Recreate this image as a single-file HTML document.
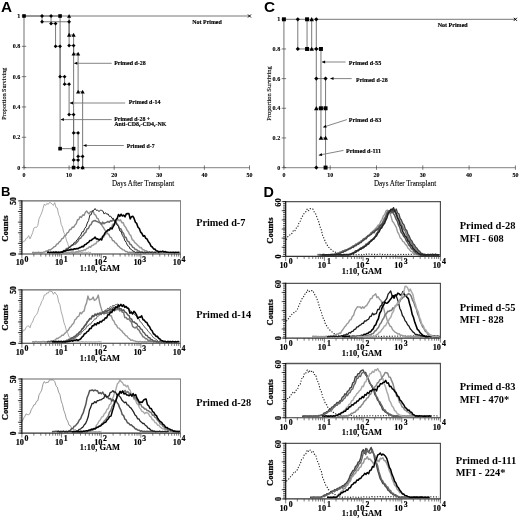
<!DOCTYPE html>
<html><head><meta charset="utf-8"><style>
html,body{margin:0;padding:0;background:#fff;}
svg{display:block;filter:grayscale(1);}
</style></head><body>
<svg width="520" height="520" viewBox="0 0 520 520">
<rect x="0" y="0" width="520" height="520" fill="#fff"/>
<line x1="24" y1="16" x2="24" y2="167.6" stroke="#9a9a9a" stroke-width="1.4" />
<line x1="24" y1="167.6" x2="249.5" y2="167.6" stroke="#9a9a9a" stroke-width="1.4" />
<line x1="21.8" y1="167.6" x2="26.2" y2="167.6" stroke="#444" stroke-width="0.7" />
<text x="20.3" y="169.6" font-size="6.1" font-weight="bold" fill="#000" text-anchor="end" style="font-family:'Liberation Serif',serif" stroke="#000" stroke-width="0.12">0</text>
<line x1="21.8" y1="137.28" x2="26.2" y2="137.28" stroke="#444" stroke-width="0.7" />
<text x="20.3" y="139.28" font-size="6.1" font-weight="bold" fill="#000" text-anchor="end" style="font-family:'Liberation Serif',serif" stroke="#000" stroke-width="0.12">0.2</text>
<line x1="21.8" y1="106.96" x2="26.2" y2="106.96" stroke="#444" stroke-width="0.7" />
<text x="20.3" y="108.96" font-size="6.1" font-weight="bold" fill="#000" text-anchor="end" style="font-family:'Liberation Serif',serif" stroke="#000" stroke-width="0.12">0.4</text>
<line x1="21.8" y1="76.64" x2="26.2" y2="76.64" stroke="#444" stroke-width="0.7" />
<text x="20.3" y="78.64" font-size="6.1" font-weight="bold" fill="#000" text-anchor="end" style="font-family:'Liberation Serif',serif" stroke="#000" stroke-width="0.12">0.6</text>
<line x1="21.8" y1="46.32" x2="26.2" y2="46.32" stroke="#444" stroke-width="0.7" />
<text x="20.3" y="48.32" font-size="6.1" font-weight="bold" fill="#000" text-anchor="end" style="font-family:'Liberation Serif',serif" stroke="#000" stroke-width="0.12">0.8</text>
<line x1="21.8" y1="16" x2="26.2" y2="16" stroke="#444" stroke-width="0.7" />
<text x="20.3" y="18" font-size="6.1" font-weight="bold" fill="#000" text-anchor="end" style="font-family:'Liberation Serif',serif" stroke="#000" stroke-width="0.12">1</text>
<line x1="24" y1="165.4" x2="24" y2="169.8" stroke="#444" stroke-width="0.7" />
<text x="24" y="176.6" font-size="6" font-weight="bold" fill="#000" text-anchor="middle" style="font-family:'Liberation Serif',serif" stroke="#000" stroke-width="0.12">0</text>
<line x1="69.1" y1="165.4" x2="69.1" y2="169.8" stroke="#444" stroke-width="0.7" />
<text x="69.1" y="176.6" font-size="6" font-weight="bold" fill="#000" text-anchor="middle" style="font-family:'Liberation Serif',serif" stroke="#000" stroke-width="0.12">10</text>
<line x1="114.2" y1="165.4" x2="114.2" y2="169.8" stroke="#444" stroke-width="0.7" />
<text x="114.2" y="176.6" font-size="6" font-weight="bold" fill="#000" text-anchor="middle" style="font-family:'Liberation Serif',serif" stroke="#000" stroke-width="0.12">20</text>
<line x1="159.3" y1="165.4" x2="159.3" y2="169.8" stroke="#444" stroke-width="0.7" />
<text x="159.3" y="176.6" font-size="6" font-weight="bold" fill="#000" text-anchor="middle" style="font-family:'Liberation Serif',serif" stroke="#000" stroke-width="0.12">30</text>
<line x1="204.4" y1="165.4" x2="204.4" y2="169.8" stroke="#444" stroke-width="0.7" />
<text x="204.4" y="176.6" font-size="6" font-weight="bold" fill="#000" text-anchor="middle" style="font-family:'Liberation Serif',serif" stroke="#000" stroke-width="0.12">40</text>
<line x1="249.5" y1="165.4" x2="249.5" y2="169.8" stroke="#444" stroke-width="0.7" />
<text x="249.5" y="176.6" font-size="6" font-weight="bold" fill="#000" text-anchor="middle" style="font-family:'Liberation Serif',serif" stroke="#000" stroke-width="0.12">50</text>
<line x1="24" y1="16" x2="249.5" y2="16" stroke="#777" stroke-width="1" />
<polyline points="24,16 60.08,16 60.08,148.65 73.61,148.65 73.61,167.6" fill="none" stroke="#6a6a6a" stroke-width="0.9" stroke-linejoin="round" />
<polyline points="42.04,16 42.04,21.76 69.1,21.76 69.1,45.56 73.61,45.56 73.61,132.88 78.12,132.88 78.12,156.38 82.63,156.38 82.63,167.6" fill="none" stroke="#6a6a6a" stroke-width="0.9" stroke-linejoin="round" />
<polyline points="51.06,16 51.06,23.58 55.57,23.58 55.57,46.32 60.08,46.32 60.08,76.64 64.59,76.64 64.59,84.22 69.1,84.22 69.1,114.54 73.61,114.54 73.61,160.02 78.12,160.02 78.12,167.6" fill="none" stroke="#6a6a6a" stroke-width="0.9" stroke-linejoin="round" />
<polyline points="69.1,16 69.1,34.95 73.61,34.95 73.61,53.9 78.12,53.9 78.12,91.8 82.63,91.8 82.63,167.6" fill="none" stroke="#6a6a6a" stroke-width="0.9" stroke-linejoin="round" />
<rect x="22.2" y="14.2" width="3.6" height="3.6" fill="#000"/>
<rect x="58.28" y="14.2" width="3.6" height="3.6" fill="#000"/>
<rect x="58.28" y="146.85" width="3.6" height="3.6" fill="#000"/>
<rect x="71.81" y="146.85" width="3.6" height="3.6" fill="#000"/>
<rect x="71.81" y="165.8" width="3.6" height="3.6" fill="#000"/>
<path d="M42.04 14.1L43.94 16L42.04 17.9L40.14 16Z" fill="#000"/>
<path d="M42.04 19.86L43.94 21.76L42.04 23.66L40.14 21.76Z" fill="#000"/>
<path d="M69.1 19.86L71 21.76L69.1 23.66L67.2 21.76Z" fill="#000"/>
<path d="M69.1 43.66L71 45.56L69.1 47.46L67.2 45.56Z" fill="#000"/>
<path d="M73.61 43.66L75.51 45.56L73.61 47.46L71.71 45.56Z" fill="#000"/>
<path d="M73.61 130.98L75.51 132.88L73.61 134.78L71.71 132.88Z" fill="#000"/>
<path d="M78.12 130.98L80.02 132.88L78.12 134.78L76.22 132.88Z" fill="#000"/>
<path d="M78.12 154.48L80.02 156.38L78.12 158.28L76.22 156.38Z" fill="#000"/>
<path d="M82.63 154.48L84.53 156.38L82.63 158.28L80.73 156.38Z" fill="#000"/>
<path d="M82.63 165.7L84.53 167.6L82.63 169.5L80.73 167.6Z" fill="#000"/>
<path d="M51.06 14.1L52.96 16L51.06 17.9L49.16 16Z" fill="#000"/>
<path d="M51.06 21.68L52.96 23.58L51.06 25.48L49.16 23.58Z" fill="#000"/>
<path d="M55.57 21.68L57.47 23.58L55.57 25.48L53.67 23.58Z" fill="#000"/>
<path d="M55.57 44.42L57.47 46.32L55.57 48.22L53.67 46.32Z" fill="#000"/>
<path d="M60.08 44.42L61.98 46.32L60.08 48.22L58.18 46.32Z" fill="#000"/>
<path d="M60.08 74.74L61.98 76.64L60.08 78.54L58.18 76.64Z" fill="#000"/>
<path d="M64.59 74.74L66.49 76.64L64.59 78.54L62.69 76.64Z" fill="#000"/>
<path d="M64.59 82.32L66.49 84.22L64.59 86.12L62.69 84.22Z" fill="#000"/>
<path d="M69.1 82.32L71 84.22L69.1 86.12L67.2 84.22Z" fill="#000"/>
<path d="M69.1 112.64L71 114.54L69.1 116.44L67.2 114.54Z" fill="#000"/>
<path d="M73.61 112.64L75.51 114.54L73.61 116.44L71.71 114.54Z" fill="#000"/>
<path d="M73.61 158.12L75.51 160.02L73.61 161.92L71.71 160.02Z" fill="#000"/>
<path d="M78.12 158.12L80.02 160.02L78.12 161.92L76.22 160.02Z" fill="#000"/>
<path d="M78.12 165.7L80.02 167.6L78.12 169.5L76.22 167.6Z" fill="#000"/>
<path d="M69.1 13.9L71.2 17.68L67 17.68Z" fill="#000"/>
<path d="M69.1 32.85L71.2 36.63L67 36.63Z" fill="#000"/>
<path d="M73.61 32.85L75.71 36.63L71.51 36.63Z" fill="#000"/>
<path d="M73.61 51.8L75.71 55.58L71.51 55.58Z" fill="#000"/>
<path d="M78.12 51.8L80.22 55.58L76.02 55.58Z" fill="#000"/>
<path d="M78.12 89.7L80.22 93.48L76.02 93.48Z" fill="#000"/>
<path d="M82.63 89.7L84.73 93.48L80.53 93.48Z" fill="#000"/>
<path d="M82.63 165.5L84.73 169.28L80.53 169.28Z" fill="#000"/>
<line x1="248" y1="14.5" x2="251" y2="17.5" stroke="#000" stroke-width="1" />
<line x1="248" y1="17.5" x2="251" y2="14.5" stroke="#000" stroke-width="1" />
<line x1="74.1" y1="63.3" x2="111.7" y2="63.3" stroke="#777" stroke-width="0.9" />
<path d="M74.1 63.3L77.3 64.8L77.3 61.8Z" fill="#000"/>
<line x1="69.8" y1="103" x2="125.2" y2="103" stroke="#777" stroke-width="0.9" />
<path d="M69.8 103L73 104.5L73 101.5Z" fill="#000"/>
<line x1="60.7" y1="119.6" x2="111.7" y2="119.6" stroke="#777" stroke-width="0.9" />
<path d="M60.7 119.6L63.9 121.1L63.9 118.1Z" fill="#000"/>
<line x1="83.3" y1="145.5" x2="123.8" y2="145.5" stroke="#777" stroke-width="0.9" />
<path d="M83.3 145.5L86.5 147L86.5 144Z" fill="#000"/>
<text x="114.2" y="64.6" font-size="6.1" font-weight="bold" fill="#000" text-anchor="start" style="font-family:'Liberation Serif',serif" textLength="31.6" lengthAdjust="spacingAndGlyphs" stroke="#000" stroke-width="0.15">Primed d-28</text>
<text x="128.7" y="103.6" font-size="6.1" font-weight="bold" fill="#000" text-anchor="start" style="font-family:'Liberation Serif',serif" textLength="31.7" lengthAdjust="spacingAndGlyphs" stroke="#000" stroke-width="0.15">Primed d-14</text>
<text x="114.2" y="120.9" font-size="6.1" font-weight="bold" fill="#000" text-anchor="start" style="font-family:'Liberation Serif',serif" textLength="36" lengthAdjust="spacingAndGlyphs" stroke="#000" stroke-width="0.15">Primed d-28 +</text>
<text x="114.2" y="126.3" font-size="6.1" font-weight="bold" fill="#000" text-anchor="start" style="font-family:'Liberation Serif',serif" textLength="52.3" lengthAdjust="spacingAndGlyphs" stroke="#000" stroke-width="0.15">Anti-CD8,-CD4,-NK</text>
<text x="126.7" y="147.5" font-size="6.1" font-weight="bold" fill="#000" text-anchor="start" style="font-family:'Liberation Serif',serif" textLength="27.9" lengthAdjust="spacingAndGlyphs" stroke="#000" stroke-width="0.15">Primed d-7</text>
<text x="192.3" y="23.9" font-size="6.1" font-weight="bold" fill="#000" text-anchor="start" style="font-family:'Liberation Serif',serif" textLength="29.5" lengthAdjust="spacingAndGlyphs" stroke="#000" stroke-width="0.15">Not Primed</text>
<text x="6.2" y="93.7" font-size="6.7" font-weight="normal" fill="#000" text-anchor="middle" style="font-family:'Liberation Serif',serif" textLength="52" lengthAdjust="spacingAndGlyphs" transform="rotate(-90 6.2 93.7)" stroke="#000" stroke-width="0.15">Proportion Surviving</text>
<text x="112" y="185.5" font-size="7.2" font-weight="normal" fill="#000" text-anchor="start" style="font-family:'Liberation Serif',serif" textLength="62.2" lengthAdjust="spacingAndGlyphs" stroke="#000" stroke-width="0.1">Days After Transplant</text>
<line x1="283.9" y1="19.3" x2="283.9" y2="167.6" stroke="#9a9a9a" stroke-width="1.4" />
<line x1="283.9" y1="167.6" x2="515.4" y2="167.6" stroke="#9a9a9a" stroke-width="1.4" />
<line x1="281.7" y1="167.6" x2="286.1" y2="167.6" stroke="#444" stroke-width="0.7" />
<text x="280.2" y="169.6" font-size="6.1" font-weight="bold" fill="#000" text-anchor="end" style="font-family:'Liberation Serif',serif" stroke="#000" stroke-width="0.12">0</text>
<line x1="281.7" y1="137.94" x2="286.1" y2="137.94" stroke="#444" stroke-width="0.7" />
<text x="280.2" y="139.94" font-size="6.1" font-weight="bold" fill="#000" text-anchor="end" style="font-family:'Liberation Serif',serif" stroke="#000" stroke-width="0.12">0.2</text>
<line x1="281.7" y1="108.28" x2="286.1" y2="108.28" stroke="#444" stroke-width="0.7" />
<text x="280.2" y="110.28" font-size="6.1" font-weight="bold" fill="#000" text-anchor="end" style="font-family:'Liberation Serif',serif" stroke="#000" stroke-width="0.12">0.4</text>
<line x1="281.7" y1="78.62" x2="286.1" y2="78.62" stroke="#444" stroke-width="0.7" />
<text x="280.2" y="80.62" font-size="6.1" font-weight="bold" fill="#000" text-anchor="end" style="font-family:'Liberation Serif',serif" stroke="#000" stroke-width="0.12">0.6</text>
<line x1="281.7" y1="48.96" x2="286.1" y2="48.96" stroke="#444" stroke-width="0.7" />
<text x="280.2" y="50.96" font-size="6.1" font-weight="bold" fill="#000" text-anchor="end" style="font-family:'Liberation Serif',serif" stroke="#000" stroke-width="0.12">0.8</text>
<line x1="281.7" y1="19.3" x2="286.1" y2="19.3" stroke="#444" stroke-width="0.7" />
<text x="280.2" y="21.3" font-size="6.1" font-weight="bold" fill="#000" text-anchor="end" style="font-family:'Liberation Serif',serif" stroke="#000" stroke-width="0.12">1</text>
<line x1="283.9" y1="165.4" x2="283.9" y2="169.8" stroke="#444" stroke-width="0.7" />
<text x="283.9" y="176.6" font-size="6" font-weight="bold" fill="#000" text-anchor="middle" style="font-family:'Liberation Serif',serif" stroke="#000" stroke-width="0.12">0</text>
<line x1="330.2" y1="165.4" x2="330.2" y2="169.8" stroke="#444" stroke-width="0.7" />
<text x="330.2" y="176.6" font-size="6" font-weight="bold" fill="#000" text-anchor="middle" style="font-family:'Liberation Serif',serif" stroke="#000" stroke-width="0.12">10</text>
<line x1="376.5" y1="165.4" x2="376.5" y2="169.8" stroke="#444" stroke-width="0.7" />
<text x="376.5" y="176.6" font-size="6" font-weight="bold" fill="#000" text-anchor="middle" style="font-family:'Liberation Serif',serif" stroke="#000" stroke-width="0.12">20</text>
<line x1="422.8" y1="165.4" x2="422.8" y2="169.8" stroke="#444" stroke-width="0.7" />
<text x="422.8" y="176.6" font-size="6" font-weight="bold" fill="#000" text-anchor="middle" style="font-family:'Liberation Serif',serif" stroke="#000" stroke-width="0.12">30</text>
<line x1="469.1" y1="165.4" x2="469.1" y2="169.8" stroke="#444" stroke-width="0.7" />
<text x="469.1" y="176.6" font-size="6" font-weight="bold" fill="#000" text-anchor="middle" style="font-family:'Liberation Serif',serif" stroke="#000" stroke-width="0.12">40</text>
<line x1="515.4" y1="165.4" x2="515.4" y2="169.8" stroke="#444" stroke-width="0.7" />
<text x="515.4" y="176.6" font-size="6" font-weight="bold" fill="#000" text-anchor="middle" style="font-family:'Liberation Serif',serif" stroke="#000" stroke-width="0.12">50</text>
<line x1="283.9" y1="19.3" x2="515.4" y2="19.3" stroke="#777" stroke-width="1" />
<polyline points="297.79,19.3 297.79,48.96 320.94,48.96" fill="none" stroke="#6a6a6a" stroke-width="0.9" stroke-linejoin="round" />
<polyline points="307.05,19.3 307.05,48.96" fill="none" stroke="#6a6a6a" stroke-width="0.9" stroke-linejoin="round" />
<polyline points="311.68,19.3 311.68,48.96" fill="none" stroke="#6a6a6a" stroke-width="0.9" stroke-linejoin="round" />
<polyline points="316.31,19.3 316.31,167.6" fill="none" stroke="#6a6a6a" stroke-width="0.9" stroke-linejoin="round" />
<polyline points="320.94,48.96 320.94,137.94 325.57,137.94" fill="none" stroke="#6a6a6a" stroke-width="0.9" stroke-linejoin="round" />
<polyline points="316.31,78.62 325.57,78.62 325.57,167.6" fill="none" stroke="#6a6a6a" stroke-width="0.9" stroke-linejoin="round" />
<polyline points="316.31,108.28 325.57,108.28" fill="none" stroke="#6a6a6a" stroke-width="0.9" stroke-linejoin="round" />
<rect x="281.92" y="17.32" width="3.96" height="3.96" fill="#000"/>
<path d="M297.79 17.21L299.88 19.3L297.79 21.39L295.7 19.3Z" fill="#000"/>
<rect x="305.07" y="17.32" width="3.96" height="3.96" fill="#000"/>
<path d="M311.68 16.99L313.99 21.15L309.37 21.15Z" fill="#000"/>
<path d="M316.31 17.21L318.4 19.3L316.31 21.39L314.22 19.3Z" fill="#000"/>
<path d="M297.79 46.87L299.88 48.96L297.79 51.05L295.7 48.96Z" fill="#000"/>
<rect x="305.07" y="46.98" width="3.96" height="3.96" fill="#000"/>
<path d="M311.68 46.65L313.99 50.81L309.37 50.81Z" fill="#000"/>
<path d="M316.31 46.87L318.4 48.96L316.31 51.05L314.22 48.96Z" fill="#000"/>
<rect x="318.96" y="46.98" width="3.96" height="3.96" fill="#000"/>
<path d="M316.31 76.53L318.4 78.62L316.31 80.71L314.22 78.62Z" fill="#000"/>
<path d="M325.57 76.53L327.66 78.62L325.57 80.71L323.48 78.62Z" fill="#000"/>
<path d="M316.31 105.97L318.62 110.13L314 110.13Z" fill="#000"/>
<rect x="318.96" y="106.3" width="3.96" height="3.96" fill="#000"/>
<rect x="323.59" y="106.3" width="3.96" height="3.96" fill="#000"/>
<path d="M320.94 135.63L323.25 139.79L318.63 139.79Z" fill="#000"/>
<path d="M325.57 135.63L327.88 139.79L323.26 139.79Z" fill="#000"/>
<path d="M316.31 165.51L318.4 167.6L316.31 169.69L314.22 167.6Z" fill="#000"/>
<rect x="323.59" y="165.62" width="3.96" height="3.96" fill="#000"/>
<line x1="513.9" y1="17.8" x2="516.9" y2="20.8" stroke="#000" stroke-width="1" />
<line x1="513.9" y1="20.8" x2="516.9" y2="17.8" stroke="#000" stroke-width="1" />
<line x1="321.9" y1="62" x2="345.6" y2="62" stroke="#777" stroke-width="0.9" />
<path d="M321.9 62L325.1 63.5L325.1 60.5Z" fill="#000"/>
<line x1="330.3" y1="78.6" x2="351.7" y2="78.6" stroke="#777" stroke-width="0.9" />
<path d="M330.3 78.6L333.5 80.1L333.5 77.1Z" fill="#000"/>
<line x1="323.1" y1="127.2" x2="346.9" y2="119.6" stroke="#777" stroke-width="0.9" />
<path d="M323.1 127.2L326.6 127.66L325.69 124.8Z" fill="#000"/>
<line x1="318.8" y1="155.2" x2="343.5" y2="150.4" stroke="#777" stroke-width="0.9" />
<path d="M318.8 155.2L322.23 156.06L321.66 153.12Z" fill="#000"/>
<text x="348.8" y="65" font-size="6.1" font-weight="bold" fill="#000" text-anchor="start" style="font-family:'Liberation Serif',serif" textLength="32.4" lengthAdjust="spacingAndGlyphs" stroke="#000" stroke-width="0.15">Primed d-55</text>
<text x="356" y="81.9" font-size="6.1" font-weight="bold" fill="#000" text-anchor="start" style="font-family:'Liberation Serif',serif" textLength="31.7" lengthAdjust="spacingAndGlyphs" stroke="#000" stroke-width="0.15">Primed d-28</text>
<text x="348.8" y="122.1" font-size="6.1" font-weight="bold" fill="#000" text-anchor="start" style="font-family:'Liberation Serif',serif" textLength="32.4" lengthAdjust="spacingAndGlyphs" stroke="#000" stroke-width="0.15">Primed d-83</text>
<text x="346" y="153.1" font-size="6.1" font-weight="bold" fill="#000" text-anchor="start" style="font-family:'Liberation Serif',serif" textLength="35.2" lengthAdjust="spacingAndGlyphs" stroke="#000" stroke-width="0.15">Primed d-111</text>
<text x="437.7" y="27" font-size="6.1" font-weight="bold" fill="#000" text-anchor="start" style="font-family:'Liberation Serif',serif" textLength="30" lengthAdjust="spacingAndGlyphs" stroke="#000" stroke-width="0.15">Not Primed</text>
<text x="270.9" y="93.5" font-size="6.7" font-weight="normal" fill="#000" text-anchor="middle" style="font-family:'Liberation Serif',serif" textLength="54.6" lengthAdjust="spacingAndGlyphs" transform="rotate(-90 270.9 93.5)" stroke="#000" stroke-width="0.15">Proportion Surviving</text>
<text x="373.9" y="186" font-size="7.2" font-weight="normal" fill="#000" text-anchor="start" style="font-family:'Liberation Serif',serif" textLength="62.3" lengthAdjust="spacingAndGlyphs" stroke="#000" stroke-width="0.1">Days After Transplant</text>
<text x="0.9" y="12.2" font-size="15.3" font-weight="bold" fill="#000" text-anchor="start" style="font-family:'Liberation Sans',sans-serif" >A</text>
<text x="264" y="12.3" font-size="15.3" font-weight="bold" fill="#000" text-anchor="start" style="font-family:'Liberation Sans',sans-serif" >C</text>
<text x="0.9" y="196.3" font-size="13" font-weight="bold" fill="#000" text-anchor="start" style="font-family:'Liberation Sans',sans-serif" >B</text>
<text x="263.6" y="196.5" font-size="14" font-weight="bold" fill="#000" text-anchor="start" style="font-family:'Liberation Sans',sans-serif" textLength="10.4" lengthAdjust="spacingAndGlyphs" >D</text>
<polyline points="22.2,243.16 23.5,241.25 24.8,241.18 26.1,238.34 27.4,238.03 28.7,235.56 30,238.92 31.3,236.01 32.6,232.81 33.9,228.01 35.2,227.26 36.5,227.45 37.8,225.43 39.1,218.58 40.4,215.89 41.7,212.87 43,208.61 44.3,203.98 45.6,205.44 46.9,203.38 48.2,204.49 49.5,202.43 50.8,202.9 52.1,204.07 53.4,205.34 54.7,202.56 56,207.52 57.3,208.01 58.6,214.61 59.9,217.21 61.2,224.37 62.5,227.15 63.8,232.62 65.1,234.83 66.4,240.03 67.7,243.37 69,247.7 70.3,248.04 71.6,250.74 72.9,251.67 74.2,252.7 75.5,252.01 76.8,252.65 78.1,252.39 79.4,252.67 80.7,252.27 82,252.7 83.3,252.18 84.6,252.53 85.9,252.22 87.2,252.64 88.5,252.1 89.8,252.7 91.1,252.11" fill="none" stroke="#a0a0a0" stroke-width="0.9" stroke-linejoin="round" />
<polyline points="32,252.57 33.3,252.31 34.6,252.69 35.9,252.36 37.2,252.63 38.5,252.13 39.8,252.7 41.1,252.37 42.4,252.66 43.7,252.06 45,251.93 46.3,250.9 47.6,251.01 48.9,249.66 50.2,250.11 51.5,248.96 52.8,248.1 54.1,246.74 55.4,246.4 56.7,244.07 58,243.73 59.3,241.91 60.6,240.98 61.9,238.57 63.2,238.29 64.5,235.76 65.8,235.39 67.1,232.81 68.4,232.32 69.7,229.51 71,229.43 72.3,227.08 73.6,227.38 74.9,225.14 76.2,223.73 77.5,219.81 78.8,219.55 80.1,216.58 81.4,217.41 82.7,214.97 84,215.37 85.3,212.41 86.6,210.94 87.9,212.72 89.2,213.89 90.5,211.7 91.8,211.55 93.1,210.87 94.4,214.39 95.7,215.04 97,218.16 98.3,218.88 99.6,222.73 100.9,222.74 102.2,225.81 103.5,227.55 104.8,229.97 106.1,230.89 107.4,233.63 108.7,234.15 110,237.04 111.3,237.57 112.6,240.67 113.9,240.79 115.2,242.86 116.5,243.34 117.8,245.63 119.1,246.55 120.4,248.11 121.7,248.65 123,249.9 124.3,250.13 125.6,251.62 126.9,251.54 128.2,252.7 129.5,252.18 130.8,252.5 132.1,252.14 133.4,252.51 134.7,252.38 136,252.7 137.3,252.24 138.6,252.48 139.9,252.04 141.2,252.43 142.5,252.15 143.8,252.63 145.1,252.27 146.4,252.7" fill="none" stroke="#8a8a8a" stroke-width="1.4" stroke-linejoin="round" />
<polyline points="62,252.7 63.3,252.17 64.6,252.64 65.9,252.2 67.2,252.66 68.5,252.11 69.8,252.7 71.1,252.05 72.4,252.62 73.7,252.17 75,252.6 76.3,251.57 77.6,252.12 78.9,250.86 80.2,251.49 81.5,250.62 82.8,250.8 84.1,249.71 85.4,250 86.7,248.61 88,248.35 89.3,246.81 90.6,247.28 91.9,245.51 93.2,245.3 94.5,243.99 95.8,243.82 97.1,241.34 98.4,241.48 99.7,239.38 101,238.71 102.3,236.73 103.6,237.14 104.9,234.65 106.2,233.7 107.5,231.11 108.8,230.64 110.1,228.1 111.4,227.8 112.7,224.14 114,223.91 115.3,221.75 116.6,221.08 117.9,219.32 119.2,220.8 120.5,219.73 121.8,222.77 123.1,222.45 124.4,225.86 125.7,227.26 127,230.06 128.3,231.66 129.6,234.52 130.9,235.66 132.2,239.7 133.5,240.31 134.8,242.66 136.1,243.61 137.4,245.08 138.7,246.1 140,247.82 141.3,247.56 142.6,249.75 143.9,249.7 145.2,251.01 146.5,250.72 147.8,252 149.1,251.84 150.4,252.41 151.7,252.05 153,252.41 154.3,252.22 155.6,252.6 156.9,252.09 158.2,252.63 159.5,252.06 160.8,252.57 162.1,252.22 163.4,252.47 164.7,252.06 166,252.7" fill="none" stroke="#9a9a9a" stroke-width="1.5" stroke-linejoin="round" />
<polyline points="52,252.7 53.3,252.25 54.6,252.41 55.9,252.23 57.2,252.7 58.5,252.32 59.8,252.65 61.1,252.05 62.4,252.08 63.7,250.5 65,250.67 66.3,248.55 67.6,248.49 68.9,247.38 70.2,246.69 71.5,245.21 72.8,245.22 74.1,244.08 75.4,243.98 76.7,242.54 78,241.22 79.3,238.62 80.6,238.27 81.9,236.14 83.2,235.43 84.5,233.09 85.8,232.34 87.1,228.85 88.4,228.54 89.7,225.48 91,224.7 92.3,221.74 93.6,220.94 94.9,220.47 96.2,221.23 97.5,221.6 98.8,222.5 100.1,222.56 101.4,224.52 102.7,222.16 104,223.7 105.3,222.67 106.6,222.39 107.9,221.42 109.2,222.28 110.5,220.63 111.8,221.26 113.1,219.53 114.4,221.09 115.7,221.22 117,224.03 118.3,225.46 119.6,228.74 120.9,228.85 122.2,231.87 123.5,233.19 124.8,237.03 126.1,237.56 127.4,241.14 128.7,241.41 130,244.19 131.3,244.76 132.6,247.22 133.9,247.66 135.2,249.47 136.5,249.48 137.8,250.84 139.1,250.92 140.4,252.45 141.7,251.9 143,252.58 144.3,252.4 145.6,252.68 146.9,252.17 148.2,252.7 149.5,252.13 150.8,252.61 152.1,252.25 153.4,252.66 154.7,252.14 156,252.54 157.3,252.16 158.6,252.7 159.9,252.31" fill="none" stroke="#6e6e6e" stroke-width="1.5" stroke-linejoin="round" />
<polyline points="47,252.52 48.3,252.32 49.6,252.62 50.9,252.13 52.2,252.58 53.5,252.08 54.8,252.48 56.1,252.07 57.4,252.43 58.7,252.26 60,252.7 61.3,252.07 62.6,251.98 63.9,251.59 65.2,251.11 66.5,249.67 67.8,249.2 69.1,247.36 70.4,247.13 71.7,245.24 73,244.63 74.3,242.34 75.6,242.26 76.9,239.88 78.2,238.68 79.5,236.48 80.8,235.11 82.1,231.83 83.4,231.78 84.7,228.37 86,226.83 87.3,223.04 88.6,220.51 89.9,215 91.2,214.78 92.5,210.73 93.8,210.35 95.1,208.52 96.4,210.45 97.7,210.27 99,211.48 100.3,210.32 101.6,210.38 102.9,211.05 104.2,214.07 105.5,212.63 106.8,214.31 108.1,213.9 109.4,216.44 110.7,216.16 112,218.5 113.3,218.23 114.6,221.37 115.9,222.39 117.2,225.22 118.5,226.48 119.8,230.91 121.1,231.48 122.4,235.51 123.7,237.38 125,240.93 126.3,242.58 127.6,245.71 128.9,246.33 130.2,249.03 131.5,249.41 132.8,251.14 134.1,251.27 135.4,252.51 136.7,252.14 138,252.47 139.3,252.2 140.6,252.63 141.9,252.23 143.2,252.7 144.5,252.21 145.8,252.47 147.1,252.27 148.4,252.54 149.7,252.05 151,252.54 152.3,252.08 153.6,252.63 154.9,252.37 156.2,252.66" fill="none" stroke="#262626" stroke-width="1" stroke-linejoin="round" />
<polyline points="47,252.7 48.3,252.09 49.6,252.7 50.9,252.31 52.2,252.49 53.5,252.21 54.8,252.46 56.1,252.15 57.4,252.59 58.7,252.18 60,252.54 61.3,252.05 62.6,252.08 63.9,250.85 65.2,251.21 66.5,250.33 67.8,250.26 69.1,249.91 70.4,249.89 71.7,249.33 73,249.76 74.3,248.69 75.6,249.08 76.9,248.49 78.2,248.58 79.5,247.61 80.8,247.42 82.1,246.36 83.4,246.73 84.7,244.82 86,244.34 87.3,243.02 88.6,242.39 89.9,240.44 91.2,240.52 92.5,239.14 93.8,238.57 95.1,237.16 96.4,239.06 97.7,238.85 99,240.03 100.3,239.02 101.6,239.94 102.9,236.27 104.2,234.69 105.5,232.08 106.8,231.36 108.1,229.76 109.4,230.01 110.7,228.01 112,228.96 113.3,226.26 114.6,224.01 115.9,219.71 117.2,218.38 118.5,214.48 119.8,216.31 121.1,214.28 122.4,216.02 123.7,215.15 125,216.79 126.3,213.87 127.6,213.63 128.9,213.61 130.2,218.93 131.5,216.68 132.8,216.27 134.1,218.45 135.4,222.23 136.7,223.39 138,227.22 139.3,228.51 140.6,232.09 141.9,233.38 143.2,236.13 144.5,235.69 145.8,238.37 147.1,239.03 148.4,241.74 149.7,243.28 151,246.09 152.3,247.02 153.6,248.87 154.9,249.14 156.2,250.67 157.5,250.95 158.8,252.18 160.1,251.39 161.4,251.84 162.7,251.1 164,251.97 165.3,251.65 166.6,252.13 167.9,252.2 169.2,252.49 170.5,252.37 171.8,252.51 173.1,252.24 174.4,252.61 175.7,252.25 177,252.52 178.3,252.32 179.6,252.62" fill="none" stroke="#000" stroke-width="1.6" stroke-linejoin="round" />
<line x1="21.9" y1="200.9" x2="180.9" y2="200.9" stroke="#666" stroke-width="1.2" />
<line x1="180.5" y1="200.9" x2="180.5" y2="254" stroke="#777" stroke-width="0.9" />
<line x1="17.9" y1="254" x2="21.9" y2="254" stroke="#111" stroke-width="0.7" />
<line x1="17.9" y1="243.38" x2="21.9" y2="243.38" stroke="#111" stroke-width="0.7" />
<line x1="17.9" y1="232.76" x2="21.9" y2="232.76" stroke="#111" stroke-width="0.7" />
<line x1="17.9" y1="222.14" x2="21.9" y2="222.14" stroke="#111" stroke-width="0.7" />
<line x1="17.9" y1="211.52" x2="21.9" y2="211.52" stroke="#111" stroke-width="0.7" />
<line x1="17.9" y1="200.9" x2="21.9" y2="200.9" stroke="#111" stroke-width="0.7" />
<line x1="19.3" y1="254" x2="21.9" y2="254" stroke="#000" stroke-width="0.7" />
<line x1="19.3" y1="251.88" x2="21.9" y2="251.88" stroke="#000" stroke-width="0.7" />
<line x1="19.3" y1="249.75" x2="21.9" y2="249.75" stroke="#000" stroke-width="0.7" />
<line x1="19.3" y1="247.63" x2="21.9" y2="247.63" stroke="#000" stroke-width="0.7" />
<line x1="19.3" y1="245.5" x2="21.9" y2="245.5" stroke="#000" stroke-width="0.7" />
<line x1="19.3" y1="243.38" x2="21.9" y2="243.38" stroke="#000" stroke-width="0.7" />
<line x1="19.3" y1="241.26" x2="21.9" y2="241.26" stroke="#000" stroke-width="0.7" />
<line x1="19.3" y1="239.13" x2="21.9" y2="239.13" stroke="#000" stroke-width="0.7" />
<line x1="19.3" y1="237.01" x2="21.9" y2="237.01" stroke="#000" stroke-width="0.7" />
<line x1="19.3" y1="234.88" x2="21.9" y2="234.88" stroke="#000" stroke-width="0.7" />
<line x1="19.3" y1="232.76" x2="21.9" y2="232.76" stroke="#000" stroke-width="0.7" />
<line x1="19.3" y1="230.64" x2="21.9" y2="230.64" stroke="#000" stroke-width="0.7" />
<line x1="19.3" y1="228.51" x2="21.9" y2="228.51" stroke="#000" stroke-width="0.7" />
<line x1="19.3" y1="226.39" x2="21.9" y2="226.39" stroke="#000" stroke-width="0.7" />
<line x1="19.3" y1="224.26" x2="21.9" y2="224.26" stroke="#000" stroke-width="0.7" />
<line x1="19.3" y1="222.14" x2="21.9" y2="222.14" stroke="#000" stroke-width="0.7" />
<line x1="19.3" y1="220.02" x2="21.9" y2="220.02" stroke="#000" stroke-width="0.7" />
<line x1="19.3" y1="217.89" x2="21.9" y2="217.89" stroke="#000" stroke-width="0.7" />
<line x1="19.3" y1="215.77" x2="21.9" y2="215.77" stroke="#000" stroke-width="0.7" />
<line x1="19.3" y1="213.64" x2="21.9" y2="213.64" stroke="#000" stroke-width="0.7" />
<line x1="19.3" y1="211.52" x2="21.9" y2="211.52" stroke="#000" stroke-width="0.7" />
<line x1="19.3" y1="209.4" x2="21.9" y2="209.4" stroke="#000" stroke-width="0.7" />
<line x1="19.3" y1="207.27" x2="21.9" y2="207.27" stroke="#000" stroke-width="0.7" />
<line x1="19.3" y1="205.15" x2="21.9" y2="205.15" stroke="#000" stroke-width="0.7" />
<line x1="19.3" y1="203.02" x2="21.9" y2="203.02" stroke="#000" stroke-width="0.7" />
<line x1="19.3" y1="200.9" x2="21.9" y2="200.9" stroke="#000" stroke-width="0.7" />
<line x1="21.9" y1="254" x2="21.9" y2="258.5" stroke="#222" stroke-width="0.6" />
<line x1="33.84" y1="254" x2="33.84" y2="256.6" stroke="#222" stroke-width="0.6" />
<line x1="40.82" y1="254" x2="40.82" y2="256.6" stroke="#222" stroke-width="0.6" />
<line x1="45.77" y1="254" x2="45.77" y2="256.6" stroke="#222" stroke-width="0.6" />
<line x1="49.61" y1="254" x2="49.61" y2="256.6" stroke="#222" stroke-width="0.6" />
<line x1="52.75" y1="254" x2="52.75" y2="256.6" stroke="#222" stroke-width="0.6" />
<line x1="55.41" y1="254" x2="55.41" y2="256.6" stroke="#222" stroke-width="0.6" />
<line x1="57.71" y1="254" x2="57.71" y2="256.6" stroke="#222" stroke-width="0.6" />
<line x1="59.74" y1="254" x2="59.74" y2="256.6" stroke="#222" stroke-width="0.6" />
<line x1="61.55" y1="254" x2="61.55" y2="258.5" stroke="#222" stroke-width="0.6" />
<line x1="73.49" y1="254" x2="73.49" y2="256.6" stroke="#222" stroke-width="0.6" />
<line x1="80.47" y1="254" x2="80.47" y2="256.6" stroke="#222" stroke-width="0.6" />
<line x1="85.42" y1="254" x2="85.42" y2="256.6" stroke="#222" stroke-width="0.6" />
<line x1="89.26" y1="254" x2="89.26" y2="256.6" stroke="#222" stroke-width="0.6" />
<line x1="92.4" y1="254" x2="92.4" y2="256.6" stroke="#222" stroke-width="0.6" />
<line x1="95.06" y1="254" x2="95.06" y2="256.6" stroke="#222" stroke-width="0.6" />
<line x1="97.36" y1="254" x2="97.36" y2="256.6" stroke="#222" stroke-width="0.6" />
<line x1="99.39" y1="254" x2="99.39" y2="256.6" stroke="#222" stroke-width="0.6" />
<line x1="101.2" y1="254" x2="101.2" y2="258.5" stroke="#222" stroke-width="0.6" />
<line x1="113.14" y1="254" x2="113.14" y2="256.6" stroke="#222" stroke-width="0.6" />
<line x1="120.12" y1="254" x2="120.12" y2="256.6" stroke="#222" stroke-width="0.6" />
<line x1="125.07" y1="254" x2="125.07" y2="256.6" stroke="#222" stroke-width="0.6" />
<line x1="128.91" y1="254" x2="128.91" y2="256.6" stroke="#222" stroke-width="0.6" />
<line x1="132.05" y1="254" x2="132.05" y2="256.6" stroke="#222" stroke-width="0.6" />
<line x1="134.71" y1="254" x2="134.71" y2="256.6" stroke="#222" stroke-width="0.6" />
<line x1="137.01" y1="254" x2="137.01" y2="256.6" stroke="#222" stroke-width="0.6" />
<line x1="139.04" y1="254" x2="139.04" y2="256.6" stroke="#222" stroke-width="0.6" />
<line x1="140.85" y1="254" x2="140.85" y2="258.5" stroke="#222" stroke-width="0.6" />
<line x1="152.79" y1="254" x2="152.79" y2="256.6" stroke="#222" stroke-width="0.6" />
<line x1="159.77" y1="254" x2="159.77" y2="256.6" stroke="#222" stroke-width="0.6" />
<line x1="164.72" y1="254" x2="164.72" y2="256.6" stroke="#222" stroke-width="0.6" />
<line x1="168.56" y1="254" x2="168.56" y2="256.6" stroke="#222" stroke-width="0.6" />
<line x1="171.7" y1="254" x2="171.7" y2="256.6" stroke="#222" stroke-width="0.6" />
<line x1="174.36" y1="254" x2="174.36" y2="256.6" stroke="#222" stroke-width="0.6" />
<line x1="176.66" y1="254" x2="176.66" y2="256.6" stroke="#222" stroke-width="0.6" />
<line x1="178.69" y1="254" x2="178.69" y2="256.6" stroke="#222" stroke-width="0.6" />
<line x1="180.5" y1="254" x2="180.5" y2="258.5" stroke="#222" stroke-width="0.6" />
<line x1="21.9" y1="200.4" x2="21.9" y2="254.6" stroke="#111" stroke-width="1.2" />
<line x1="21.3" y1="254" x2="180.5" y2="254" stroke="#333" stroke-width="1.1" />
<text x="19.8" y="265.4" font-size="7.3" font-weight="bold" fill="#000" text-anchor="middle" style="font-family:'Liberation Serif',serif" textLength="8.3" lengthAdjust="spacingAndGlyphs" stroke="#000" stroke-width="0.15">10</text>
<text x="24.4" y="261.5" font-size="7.8" font-weight="bold" fill="#000" text-anchor="start" style="font-family:'Liberation Serif',serif" stroke="#000" stroke-width="0.2">0</text>
<text x="59.07" y="265.4" font-size="7.3" font-weight="bold" fill="#000" text-anchor="middle" style="font-family:'Liberation Serif',serif" textLength="8.3" lengthAdjust="spacingAndGlyphs" stroke="#000" stroke-width="0.15">10</text>
<text x="63.67" y="261.5" font-size="7.8" font-weight="bold" fill="#000" text-anchor="start" style="font-family:'Liberation Serif',serif" stroke="#000" stroke-width="0.2">1</text>
<text x="98.35" y="265.4" font-size="7.3" font-weight="bold" fill="#000" text-anchor="middle" style="font-family:'Liberation Serif',serif" textLength="8.3" lengthAdjust="spacingAndGlyphs" stroke="#000" stroke-width="0.15">10</text>
<text x="102.95" y="261.5" font-size="7.8" font-weight="bold" fill="#000" text-anchor="start" style="font-family:'Liberation Serif',serif" stroke="#000" stroke-width="0.2">2</text>
<text x="137.62" y="265.4" font-size="7.3" font-weight="bold" fill="#000" text-anchor="middle" style="font-family:'Liberation Serif',serif" textLength="8.3" lengthAdjust="spacingAndGlyphs" stroke="#000" stroke-width="0.15">10</text>
<text x="142.22" y="261.5" font-size="7.8" font-weight="bold" fill="#000" text-anchor="start" style="font-family:'Liberation Serif',serif" stroke="#000" stroke-width="0.2">3</text>
<text x="176.9" y="265.4" font-size="7.3" font-weight="bold" fill="#000" text-anchor="middle" style="font-family:'Liberation Serif',serif" textLength="8.3" lengthAdjust="spacingAndGlyphs" stroke="#000" stroke-width="0.15">10</text>
<text x="181.5" y="261.5" font-size="7.8" font-weight="bold" fill="#000" text-anchor="start" style="font-family:'Liberation Serif',serif" stroke="#000" stroke-width="0.2">4</text>
<text x="16.3" y="201.1" font-size="7.4" font-weight="bold" fill="#000" text-anchor="middle" style="font-family:'Liberation Serif',serif" transform="rotate(-90 16.3 201.1)" stroke="#000" stroke-width="0.3">50</text>
<text x="16.3" y="254.2" font-size="7.4" font-weight="bold" fill="#000" text-anchor="middle" style="font-family:'Liberation Serif',serif" transform="rotate(-90 16.3 254.2)" stroke="#000" stroke-width="0.3">0</text>
<text x="8.5" y="228.51" font-size="8.2" font-weight="bold" fill="#000" text-anchor="middle" style="font-family:'Liberation Serif',serif" textLength="26.3" lengthAdjust="spacingAndGlyphs" transform="rotate(-90 8.5 228.51)" stroke="#000" stroke-width="0.25">Counts</text>
<text x="79.8" y="271.2" font-size="8" font-weight="bold" fill="#000" text-anchor="start" style="font-family:'Liberation Serif',serif" textLength="40.2" lengthAdjust="spacingAndGlyphs" stroke="#000" stroke-width="0.12">1:10, GAM</text>
<polyline points="22.2,332.63 23.5,329.95 24.8,330.25 26.1,327.26 27.4,326.2 28.7,325.78 30,327.76 31.3,323.53 32.6,321.97 33.9,318.17 35.2,315.97 36.5,314.64 37.8,312.2 39.1,307.3 40.4,305.29 41.7,301.35 43,299.47 44.3,294.91 45.6,295.06 46.9,292.81 48.2,293.29 49.5,290.7 50.8,291.42 52.1,291.49 53.4,294.3 54.7,292.01 56,294.09 57.3,295.24 58.6,301.96 59.9,304.58 61.2,311.82 62.5,315.89 63.8,322.1 65.1,325.76 66.4,330.53 67.7,333.25 69,336.89 70.3,337.31 71.6,339.14 72.9,339.8 74.2,340.47 75.5,340.64 76.8,341.45 78.1,341.11 79.4,341.78 80.7,341.28 82,341.77 83.3,341.56 84.6,342 85.9,341.41 87.2,341.99 88.5,341.46 89.8,341.92 91.1,341.64 92.4,341.84 93.7,341.64 95,342 96.3,341.56 97.6,341.7 98.9,341.29 100.2,341.71 101.5,341.41" fill="none" stroke="#a0a0a0" stroke-width="0.9" stroke-linejoin="round" />
<polyline points="32,342 33.3,341.66 34.6,342 35.9,341.38 37.2,341.95 38.5,341.62 39.8,341.99 41.1,341.63 42.4,341.75 43.7,341.4 45,341.99 46.3,341.61 47.6,342 48.9,341.33 50.2,341.72 51.5,340.63 52.8,341.29 54.1,340.36 55.4,339.87 56.7,338.32 58,338.53 59.3,337.19 60.6,336.91 61.9,335.18 63.2,335.32 64.5,333.66 65.8,332.58 67.1,331.14 68.4,330.13 69.7,327.59 71,326.51 72.3,324.43 73.6,323.47 74.9,319.79 76.2,318.85 77.5,316.61 78.8,316.36 80.1,312.43 81.4,313.75 82.7,311.89 84,311.24 85.3,305.87 86.6,302.9 87.9,296.01 89.2,299.77 90.5,299.55 91.8,299.04 93.1,297.02 94.4,300.43 95.7,299.75 97,298.1 98.3,295.06 99.6,302.47 100.9,307.34 102.2,311.42 103.5,311.59 104.8,312.83 106.1,311.88 107.4,313.74 108.7,313.63 110,315.73 111.3,315.74 112.6,319.76 113.9,321.07 115.2,324.31 116.5,325.09 117.8,327.93 119.1,328.11 120.4,329.92 121.7,330.73 123,332.75 124.3,333.53 125.6,335.67 126.9,335.84 128.2,338 129.5,338.66 130.8,340.38 132.1,339.92 133.4,340.69 134.7,340.93 136,341.64 137.3,341.43 138.6,341.94 139.9,341.44 141.2,341.96 142.5,341.68 143.8,341.98 145.1,341.51 146.4,342 147.7,341.67 149,341.72 150.3,341.49 151.6,341.86 152.9,341.44 154.2,341.92 155.5,341.39 156.8,341.97 158.1,341.65 159.4,341.72 160.7,341.59 162,341.8" fill="none" stroke="#959595" stroke-width="1.4" stroke-linejoin="round" />
<polyline points="52,341.93 53.3,341.59 54.6,342 55.9,341.63 57.2,341.82 58.5,341.6 59.8,341.75 61.1,341.6 62.4,341.85 63.7,341.23 65,341.25 66.3,340.32 67.6,340.76 68.9,339.39 70.2,339.64 71.5,338.59 72.8,338.79 74.1,338.1 75.4,337.95 76.7,335.81 78,335.3 79.3,332.64 80.6,331.66 81.9,329.26 83.2,328.58 84.5,325.86 85.8,325.18 87.1,321.76 88.4,320.94 89.7,318.9 91,319.13 92.3,315.94 93.6,316.52 94.9,314.73 96.2,315.14 97.5,313.38 98.8,313.83 100.1,312.43 101.4,313.44 102.7,312.77 104,313.99 105.3,312.91 106.6,313.29 107.9,312.16 109.2,312.31 110.5,310.33 111.8,311.13 113.1,309.73 114.4,310.88 115.7,309.75 117,309.72 118.3,308.19 119.6,310.89 120.9,309.96 122.2,312.22 123.5,312.23 124.8,317.6 126.1,317.56 127.4,319.17 128.7,318.88 130,320.59 131.3,321.84 132.6,326.39 133.9,327.4 135.2,327.96 136.5,326.72 137.8,329.35 139.1,330.17 140.4,333.01 141.7,334.32 143,336.79 144.3,337.22 145.6,338.85 146.9,338.82 148.2,340.67 149.5,340.26 150.8,341.36 152.1,341.12 153.4,342 154.7,341.39 156,341.91 157.3,341.58 158.6,341.93 159.9,341.59 161.2,341.83 162.5,341.63 163.8,342 165.1,341.56 166.4,342" fill="none" stroke="#7a7a7a" stroke-width="1.5" stroke-linejoin="round" />
<polyline points="47,342 48.3,341.36 49.6,341.94 50.9,341.37 52.2,341.94 53.5,341.47 54.8,342 56.1,341.36 57.4,342 58.7,341.36 60,341.72 61.3,341.34 62.6,341.75 63.9,341.7 65.2,342 66.5,340.92 67.8,340.32 69.1,339.29 70.4,339.25 71.7,337.81 73,337.45 74.3,336.4 75.6,336 76.9,334.2 78.2,333.7 79.5,331.96 80.8,331.68 82.1,328.75 83.4,327.89 84.7,325.54 86,324.29 87.3,322.06 88.6,320.62 89.9,318.39 91.2,318.52 92.5,315.53 93.8,316.55 95.1,313.92 96.4,315.3 97.7,313.83 99,314.21 100.3,313.73 101.6,313.68 102.9,311.78 104.2,312.88 105.5,310.63 106.8,311.38 108.1,310.3 109.4,310.08 110.7,308.71 112,309.79 113.3,307.25 114.6,308.38 115.9,307.25 117.2,307.86 118.5,306.59 119.8,309.23 121.1,308.68 122.4,310.6 123.7,309.78 125,312.04 126.3,312.65 127.6,314.91 128.9,315.34 130.2,318.84 131.5,318.87 132.8,322.1 134.1,321.82 135.4,323.28 136.7,323.52 138,326.29 139.3,326.35 140.6,328.83 141.9,329.34 143.2,332.2 144.5,333.03 145.8,335.25 147.1,335.46 148.4,337.62 149.7,337.8 151,339.49 152.3,339.8 153.6,341.13 154.9,340.95 156.2,341.68 157.5,341.52 158.8,341.81 160.1,341.39 161.4,341.76 162.7,341.49 164,341.99 165.3,341.4 166.6,341.99 167.9,341.37 169.2,341.79 170.5,341.58 171.8,341.7 173.1,341.46" fill="none" stroke="#555" stroke-width="1.4" stroke-linejoin="round" />
<polyline points="57,341.76 58.3,341.42 59.6,342 60.9,341.4 62.2,341.96 63.5,341.67 64.8,341.79 66.1,341.65 67.4,341.6 68.7,340.68 70,340.45 71.3,339.06 72.6,339.35 73.9,337.91 75.2,337.67 76.5,336.46 77.8,336.32 79.1,334.34 80.4,334.38 81.7,332.28 83,331.14 84.3,329.62 85.6,329.08 86.9,326.12 88.2,325.91 89.5,323.91 90.8,324.15 92.1,321.76 93.4,320.88 94.7,318.67 96,319.07 97.3,316.1 98.6,316.17 99.9,314.37 101.2,314.93 102.5,312.97 103.8,313.25 105.1,309.92 106.4,310.42 107.7,308.1 109,309.03 110.3,306.49 111.6,307.53 112.9,305.18 114.2,306.1 115.5,304.41 116.8,304.68 118.1,303.89 119.4,305.64 120.7,304.66 122,306.39 123.3,304.65 124.6,306.4 125.9,306.21 127.2,308.72 128.5,307.46 129.8,310.92 131.1,310.92 132.4,313.27 133.7,313.07 135,315.18 136.3,316.07 137.6,317.8 138.9,318.69 140.2,321.92 141.5,322.51 142.8,324.96 144.1,326.2 145.4,328.19 146.7,328.9 148,331.39 149.3,332.3 150.6,334.15 151.9,335.4 153.2,337.51 154.5,338.07 155.8,339.47 157.1,340.04 158.4,341.57 159.7,340.99 161,341.99 162.3,341.51 163.6,341.81 164.9,341.44 166.2,341.78 167.5,341.64 168.8,341.77 170.1,341.69 171.4,341.89 172.7,341.44 174,341.98 175.3,341.55 176.6,342" fill="none" stroke="#666" stroke-width="1" stroke-linejoin="round" />
<polyline points="52,341.75 53.3,341.59 54.6,341.71 55.9,341.41 57.2,341.85 58.5,341.45 59.8,341.8 61.1,341.54 62.4,341.97 63.7,341.49 65,341.88 66.3,341.62 67.6,341.64 68.9,341.34 70.2,341.16 71.5,340.63 72.8,341.18 74.1,340.14 75.4,340.52 76.7,339.66 78,340.49 79.3,339.64 80.6,338.97 81.9,337.13 83.2,336.1 84.5,333.73 85.8,333.39 87.1,331.64 88.4,331.08 89.7,328.63 91,328.56 92.3,325.79 93.6,325.75 94.9,323.73 96.2,324.89 97.5,322.73 98.8,323.52 100.1,321.38 101.4,321.91 102.7,320.33 104,319.99 105.3,317.88 106.6,318.01 107.9,314.69 109.2,314.74 110.5,311.99 111.8,312.51 113.1,309.46 114.4,309.97 115.7,306.9 117,307.71 118.3,305.09 119.6,306.11 120.9,304.41 122.2,306.38 123.5,304.78 124.8,307.29 126.1,306.57 127.4,308.13 128.7,308.94 130,313.23 131.3,312.24 132.6,313.93 133.9,311.31 135.2,312.61 136.5,314.85 137.8,318.55 139.1,317.16 140.4,317.33 141.7,315.89 143,319.8 144.3,320.1 145.6,322.09 146.9,322.6 148.2,325.37 149.5,326.51 150.8,329.45 152.1,330.73 153.4,333.7 154.7,334.48 156,336.33 157.3,336.29 158.6,338.26 159.9,338.95 161.2,340.55 162.5,340.71 163.8,341.55 165.1,341.39 166.4,341.95 167.7,341.62 169,341.88 170.3,341.49 171.6,341.89 172.9,341.51 174.2,341.94 175.5,341.65 176.8,341.94 178.1,341.43 179.4,341.9" fill="none" stroke="#000" stroke-width="1.6" stroke-linejoin="round" />
<line x1="21.9" y1="289.9" x2="180.9" y2="289.9" stroke="#666" stroke-width="1.2" />
<line x1="180.5" y1="289.9" x2="180.5" y2="343.3" stroke="#777" stroke-width="0.9" />
<line x1="17.9" y1="343.3" x2="21.9" y2="343.3" stroke="#111" stroke-width="0.7" />
<line x1="17.9" y1="332.62" x2="21.9" y2="332.62" stroke="#111" stroke-width="0.7" />
<line x1="17.9" y1="321.94" x2="21.9" y2="321.94" stroke="#111" stroke-width="0.7" />
<line x1="17.9" y1="311.26" x2="21.9" y2="311.26" stroke="#111" stroke-width="0.7" />
<line x1="17.9" y1="300.58" x2="21.9" y2="300.58" stroke="#111" stroke-width="0.7" />
<line x1="17.9" y1="289.9" x2="21.9" y2="289.9" stroke="#111" stroke-width="0.7" />
<line x1="19.3" y1="343.3" x2="21.9" y2="343.3" stroke="#000" stroke-width="0.7" />
<line x1="19.3" y1="341.16" x2="21.9" y2="341.16" stroke="#000" stroke-width="0.7" />
<line x1="19.3" y1="339.03" x2="21.9" y2="339.03" stroke="#000" stroke-width="0.7" />
<line x1="19.3" y1="336.89" x2="21.9" y2="336.89" stroke="#000" stroke-width="0.7" />
<line x1="19.3" y1="334.76" x2="21.9" y2="334.76" stroke="#000" stroke-width="0.7" />
<line x1="19.3" y1="332.62" x2="21.9" y2="332.62" stroke="#000" stroke-width="0.7" />
<line x1="19.3" y1="330.48" x2="21.9" y2="330.48" stroke="#000" stroke-width="0.7" />
<line x1="19.3" y1="328.35" x2="21.9" y2="328.35" stroke="#000" stroke-width="0.7" />
<line x1="19.3" y1="326.21" x2="21.9" y2="326.21" stroke="#000" stroke-width="0.7" />
<line x1="19.3" y1="324.08" x2="21.9" y2="324.08" stroke="#000" stroke-width="0.7" />
<line x1="19.3" y1="321.94" x2="21.9" y2="321.94" stroke="#000" stroke-width="0.7" />
<line x1="19.3" y1="319.8" x2="21.9" y2="319.8" stroke="#000" stroke-width="0.7" />
<line x1="19.3" y1="317.67" x2="21.9" y2="317.67" stroke="#000" stroke-width="0.7" />
<line x1="19.3" y1="315.53" x2="21.9" y2="315.53" stroke="#000" stroke-width="0.7" />
<line x1="19.3" y1="313.4" x2="21.9" y2="313.4" stroke="#000" stroke-width="0.7" />
<line x1="19.3" y1="311.26" x2="21.9" y2="311.26" stroke="#000" stroke-width="0.7" />
<line x1="19.3" y1="309.12" x2="21.9" y2="309.12" stroke="#000" stroke-width="0.7" />
<line x1="19.3" y1="306.99" x2="21.9" y2="306.99" stroke="#000" stroke-width="0.7" />
<line x1="19.3" y1="304.85" x2="21.9" y2="304.85" stroke="#000" stroke-width="0.7" />
<line x1="19.3" y1="302.72" x2="21.9" y2="302.72" stroke="#000" stroke-width="0.7" />
<line x1="19.3" y1="300.58" x2="21.9" y2="300.58" stroke="#000" stroke-width="0.7" />
<line x1="19.3" y1="298.44" x2="21.9" y2="298.44" stroke="#000" stroke-width="0.7" />
<line x1="19.3" y1="296.31" x2="21.9" y2="296.31" stroke="#000" stroke-width="0.7" />
<line x1="19.3" y1="294.17" x2="21.9" y2="294.17" stroke="#000" stroke-width="0.7" />
<line x1="19.3" y1="292.04" x2="21.9" y2="292.04" stroke="#000" stroke-width="0.7" />
<line x1="19.3" y1="289.9" x2="21.9" y2="289.9" stroke="#000" stroke-width="0.7" />
<line x1="21.9" y1="343.3" x2="21.9" y2="347.8" stroke="#222" stroke-width="0.6" />
<line x1="33.84" y1="343.3" x2="33.84" y2="345.9" stroke="#222" stroke-width="0.6" />
<line x1="40.82" y1="343.3" x2="40.82" y2="345.9" stroke="#222" stroke-width="0.6" />
<line x1="45.77" y1="343.3" x2="45.77" y2="345.9" stroke="#222" stroke-width="0.6" />
<line x1="49.61" y1="343.3" x2="49.61" y2="345.9" stroke="#222" stroke-width="0.6" />
<line x1="52.75" y1="343.3" x2="52.75" y2="345.9" stroke="#222" stroke-width="0.6" />
<line x1="55.41" y1="343.3" x2="55.41" y2="345.9" stroke="#222" stroke-width="0.6" />
<line x1="57.71" y1="343.3" x2="57.71" y2="345.9" stroke="#222" stroke-width="0.6" />
<line x1="59.74" y1="343.3" x2="59.74" y2="345.9" stroke="#222" stroke-width="0.6" />
<line x1="61.55" y1="343.3" x2="61.55" y2="347.8" stroke="#222" stroke-width="0.6" />
<line x1="73.49" y1="343.3" x2="73.49" y2="345.9" stroke="#222" stroke-width="0.6" />
<line x1="80.47" y1="343.3" x2="80.47" y2="345.9" stroke="#222" stroke-width="0.6" />
<line x1="85.42" y1="343.3" x2="85.42" y2="345.9" stroke="#222" stroke-width="0.6" />
<line x1="89.26" y1="343.3" x2="89.26" y2="345.9" stroke="#222" stroke-width="0.6" />
<line x1="92.4" y1="343.3" x2="92.4" y2="345.9" stroke="#222" stroke-width="0.6" />
<line x1="95.06" y1="343.3" x2="95.06" y2="345.9" stroke="#222" stroke-width="0.6" />
<line x1="97.36" y1="343.3" x2="97.36" y2="345.9" stroke="#222" stroke-width="0.6" />
<line x1="99.39" y1="343.3" x2="99.39" y2="345.9" stroke="#222" stroke-width="0.6" />
<line x1="101.2" y1="343.3" x2="101.2" y2="347.8" stroke="#222" stroke-width="0.6" />
<line x1="113.14" y1="343.3" x2="113.14" y2="345.9" stroke="#222" stroke-width="0.6" />
<line x1="120.12" y1="343.3" x2="120.12" y2="345.9" stroke="#222" stroke-width="0.6" />
<line x1="125.07" y1="343.3" x2="125.07" y2="345.9" stroke="#222" stroke-width="0.6" />
<line x1="128.91" y1="343.3" x2="128.91" y2="345.9" stroke="#222" stroke-width="0.6" />
<line x1="132.05" y1="343.3" x2="132.05" y2="345.9" stroke="#222" stroke-width="0.6" />
<line x1="134.71" y1="343.3" x2="134.71" y2="345.9" stroke="#222" stroke-width="0.6" />
<line x1="137.01" y1="343.3" x2="137.01" y2="345.9" stroke="#222" stroke-width="0.6" />
<line x1="139.04" y1="343.3" x2="139.04" y2="345.9" stroke="#222" stroke-width="0.6" />
<line x1="140.85" y1="343.3" x2="140.85" y2="347.8" stroke="#222" stroke-width="0.6" />
<line x1="152.79" y1="343.3" x2="152.79" y2="345.9" stroke="#222" stroke-width="0.6" />
<line x1="159.77" y1="343.3" x2="159.77" y2="345.9" stroke="#222" stroke-width="0.6" />
<line x1="164.72" y1="343.3" x2="164.72" y2="345.9" stroke="#222" stroke-width="0.6" />
<line x1="168.56" y1="343.3" x2="168.56" y2="345.9" stroke="#222" stroke-width="0.6" />
<line x1="171.7" y1="343.3" x2="171.7" y2="345.9" stroke="#222" stroke-width="0.6" />
<line x1="174.36" y1="343.3" x2="174.36" y2="345.9" stroke="#222" stroke-width="0.6" />
<line x1="176.66" y1="343.3" x2="176.66" y2="345.9" stroke="#222" stroke-width="0.6" />
<line x1="178.69" y1="343.3" x2="178.69" y2="345.9" stroke="#222" stroke-width="0.6" />
<line x1="180.5" y1="343.3" x2="180.5" y2="347.8" stroke="#222" stroke-width="0.6" />
<line x1="21.9" y1="289.4" x2="21.9" y2="343.9" stroke="#111" stroke-width="1.2" />
<line x1="21.3" y1="343.3" x2="180.5" y2="343.3" stroke="#333" stroke-width="1.1" />
<text x="19.8" y="354.7" font-size="7.3" font-weight="bold" fill="#000" text-anchor="middle" style="font-family:'Liberation Serif',serif" textLength="8.3" lengthAdjust="spacingAndGlyphs" stroke="#000" stroke-width="0.15">10</text>
<text x="24.4" y="350.8" font-size="7.8" font-weight="bold" fill="#000" text-anchor="start" style="font-family:'Liberation Serif',serif" stroke="#000" stroke-width="0.2">0</text>
<text x="59.07" y="354.7" font-size="7.3" font-weight="bold" fill="#000" text-anchor="middle" style="font-family:'Liberation Serif',serif" textLength="8.3" lengthAdjust="spacingAndGlyphs" stroke="#000" stroke-width="0.15">10</text>
<text x="63.67" y="350.8" font-size="7.8" font-weight="bold" fill="#000" text-anchor="start" style="font-family:'Liberation Serif',serif" stroke="#000" stroke-width="0.2">1</text>
<text x="98.35" y="354.7" font-size="7.3" font-weight="bold" fill="#000" text-anchor="middle" style="font-family:'Liberation Serif',serif" textLength="8.3" lengthAdjust="spacingAndGlyphs" stroke="#000" stroke-width="0.15">10</text>
<text x="102.95" y="350.8" font-size="7.8" font-weight="bold" fill="#000" text-anchor="start" style="font-family:'Liberation Serif',serif" stroke="#000" stroke-width="0.2">2</text>
<text x="137.62" y="354.7" font-size="7.3" font-weight="bold" fill="#000" text-anchor="middle" style="font-family:'Liberation Serif',serif" textLength="8.3" lengthAdjust="spacingAndGlyphs" stroke="#000" stroke-width="0.15">10</text>
<text x="142.22" y="350.8" font-size="7.8" font-weight="bold" fill="#000" text-anchor="start" style="font-family:'Liberation Serif',serif" stroke="#000" stroke-width="0.2">3</text>
<text x="176.9" y="354.7" font-size="7.3" font-weight="bold" fill="#000" text-anchor="middle" style="font-family:'Liberation Serif',serif" textLength="8.3" lengthAdjust="spacingAndGlyphs" stroke="#000" stroke-width="0.15">10</text>
<text x="181.5" y="350.8" font-size="7.8" font-weight="bold" fill="#000" text-anchor="start" style="font-family:'Liberation Serif',serif" stroke="#000" stroke-width="0.2">4</text>
<text x="16.3" y="290.1" font-size="7.4" font-weight="bold" fill="#000" text-anchor="middle" style="font-family:'Liberation Serif',serif" transform="rotate(-90 16.3 290.1)" stroke="#000" stroke-width="0.3">50</text>
<text x="16.3" y="343.5" font-size="7.4" font-weight="bold" fill="#000" text-anchor="middle" style="font-family:'Liberation Serif',serif" transform="rotate(-90 16.3 343.5)" stroke="#000" stroke-width="0.3">0</text>
<text x="8.5" y="317.67" font-size="8.2" font-weight="bold" fill="#000" text-anchor="middle" style="font-family:'Liberation Serif',serif" textLength="26.3" lengthAdjust="spacingAndGlyphs" transform="rotate(-90 8.5 317.67)" stroke="#000" stroke-width="0.25">Counts</text>
<text x="79.8" y="360.5" font-size="8" font-weight="bold" fill="#000" text-anchor="start" style="font-family:'Liberation Serif',serif" textLength="40.2" lengthAdjust="spacingAndGlyphs" stroke="#000" stroke-width="0.12">1:10, GAM</text>
<polyline points="22.2,421.66 23.5,418.34 24.8,416.42 26.1,413.91 27.4,414.53 28.7,414.62 30,413.55 31.3,409.5 32.6,407.56 33.9,404.77 35.2,404.5 36.5,401.23 37.8,400.78 39.1,394.69 40.4,392.51 41.7,390.19 43,384.1 44.3,381.47 45.6,383.23 46.9,382.21 48.2,382.55 49.5,379.8 50.8,380.05 52.1,379.8 53.4,380.08 54.7,381.47 56,385.86 57.3,387.12 58.6,392.1 59.9,394.42 61.2,400.98 62.5,404.55 63.8,410.32 65.1,413.85 66.4,418.96 67.7,421.01 69,425.22 70.3,425.53 71.6,427.94 72.9,428.69 74.2,430.05 75.5,429.65 76.8,430.84 78.1,430.46 79.4,431.52 80.7,431.42 82,431.8 83.3,431.34 84.6,431.71 85.9,431.48 87.2,431.7 88.5,431.33 89.8,431.8 91.1,431.36 92.4,431.68 93.7,431.38 95,431.77 96.3,431.46 97.6,431.78 98.9,431.29 100.2,431.8 101.5,431.29" fill="none" stroke="#8f8f8f" stroke-width="0.9" stroke-linejoin="round" />
<polyline points="77,431.64 78.3,431.48 79.6,431.8 80.9,431.2 82.2,431.53 83.5,431.45 84.8,431.8 86.1,431.28 87.4,431.45 88.7,430.61 90,430.71 91.3,429.17 92.6,429.33 93.9,428.27 95.2,427.83 96.5,425.16 97.8,423.64 99.1,420.98 100.4,419.71 101.7,416.97 103,416.61 104.3,413.7 105.6,412.67 106.9,409.45 108.2,408.68 109.5,404.75 110.8,403.82 112.1,399.18 113.4,396.83 114.7,391.98 116,389.2 117.3,383.82 118.6,382.79 119.9,379.97 121.2,381.63 122.5,382.75 123.8,385.25 125.1,385.01 126.4,386.82 127.7,385.38 129,389.23 130.3,390.56 131.6,395.44 132.9,395.78 134.2,399.39 135.5,399.96 136.8,403.54 138.1,404.36 139.4,407.61 140.7,409.09 142,411.44 143.3,411.84 144.6,413.64 145.9,412.55 147.2,412.71 148.5,413.68 149.8,416.31 151.1,416.86 152.4,419.86 153.7,419.95 155,422.57 156.3,422.97 157.6,425.19 158.9,425.1 160.2,427.17 161.5,427.88 162.8,428.88 164.1,429.05 165.4,430.06 166.7,429.75 168,430.84 169.3,430.66 170.6,431.14 171.9,430.9 173.2,431.8 174.5,431.3 175.8,431.59 177.1,431.19 178.4,431.5 179.7,431.35" fill="none" stroke="#a8a8a8" stroke-width="1.4" stroke-linejoin="round" />
<polyline points="77,431.6 78.3,431.34 79.6,431.8 80.9,431.31 82.2,431.8 83.5,431.16 84.8,431.77 86.1,431.41 87.4,431.8 88.7,430.7 90,430.96 91.3,430.02 92.6,430.16 93.9,429.06 95.2,429.03 96.5,427.86 97.8,427.62 99.1,425.85 100.4,425.88 101.7,423.86 103,422.87 104.3,420.97 105.6,419.78 106.9,417.88 108.2,416.26 109.5,412.16 110.8,410.57 112.1,406.44 113.4,404.81 114.7,401.65 116,399.54 117.3,396.82 118.6,394.88 119.9,392.56 121.2,393.33 122.5,391.01 123.8,392.47 125.1,390.4 126.4,392.67 127.7,391.45 129,393.23 130.3,393.35 131.6,395.4 132.9,395.43 134.2,398.19 135.5,397.44 136.8,400.31 138.1,401.47 139.4,404.7 140.7,403.93 142,406.95 143.3,407.25 144.6,409.06 145.9,408.92 147.2,410.49 148.5,410.84 149.8,411.91 151.1,412.54 152.4,415.28 153.7,415.09 155,417.43 156.3,418.04 157.6,420.47 158.9,421.52 160.2,424.01 161.5,423.89 162.8,426.04 164.1,426.96 165.4,428.69 166.7,428.73 168,429.9 169.3,430.1 170.6,431.22 171.9,431.3 173.2,431.6 174.5,431.17 175.8,431.8 177.1,431.45 178.4,431.8 179.7,431.24" fill="none" stroke="#777" stroke-width="1.5" stroke-linejoin="round" />
<polyline points="52,431.77 53.3,431.47 54.6,431.57 55.9,431.15 57.2,431.56 58.5,431.22 59.8,431.74 61.1,431.44 62.4,431.79 63.7,431.39 65,431.8 66.3,431.49 67.6,431.66 68.9,430.86 70.2,430.43 71.5,428.71 72.8,428.58 74.1,426.31 75.4,425.9 76.7,424.15 78,422.66 79.3,420.02 80.6,418.65 81.9,415.3 83.2,412.97 84.5,408.46 85.8,404.58 87.1,397.69 88.4,394.57 89.7,390.6 91,390.54 92.3,389.89 93.6,390.93 94.9,390.02 96.2,390.66 97.5,390.8 98.8,393.53 100.1,392.62 101.4,393.82 102.7,392.16 104,394.75 105.3,394.54 106.6,397.44 107.9,397.54 109.2,398.88 110.5,398.48 111.8,401.12 113.1,399.55 114.4,401.95 115.7,400.29 117,402.42 118.3,404.1 119.6,407.63 120.9,410.13 122.2,414.51 123.5,415.34 124.8,419.06 126.1,419.94 127.4,422.78 128.7,423.17 130,424.9 131.3,424.84 132.6,426.26 133.9,427.04 135.2,428.95 136.5,429.07 137.8,430.07 139.1,430.18 140.4,431.22 141.7,430.83 143,431.63 144.3,431.2 145.6,431.63 146.9,431.28 148.2,431.53 149.5,431.37 150.8,431.62 152.1,431.43 153.4,431.59 154.7,431.4 156,431.8" fill="none" stroke="#555" stroke-width="1.5" stroke-linejoin="round" />
<polyline points="57,431.56 58.3,431.27 59.6,431.8 60.9,431.29 62.2,431.62 63.5,431.2 64.8,431.8 66.1,431.26 67.4,431.8 68.7,431.34 70,431.56 71.3,431.5 72.6,431.8 73.9,431.3 75.2,431.52 76.5,431 77.8,431.26 79.1,429.42 80.4,429.12 81.7,427.9 83,427.05 84.3,424.79 85.6,423.55 86.9,420.47 88.2,416.8 89.5,409.97 90.8,407.11 92.1,403.29 93.4,403.65 94.7,401.59 96,402.83 97.3,400.6 98.6,400.7 99.9,399.79 101.2,399.79 102.5,398.78 103.8,398.2 105.1,394.88 106.4,396.63 107.7,396.38 109,395.98 110.3,392.29 111.6,392.18 112.9,390.66 114.2,392.21 115.5,392.01 116.8,394.68 118.1,394.28 119.4,396.11 120.7,397.62 122,400.29 123.3,401.57 124.6,402.77 125.9,402.1 127.2,404.9 128.5,405.22 129.8,407.3 131.1,408.14 132.4,410.17 133.7,412.12 135,414.96 136.3,415.93 137.6,418.77 138.9,418.89 140.2,421.22 141.5,422.16 142.8,423.48 144.1,423.48 145.4,425.48 146.7,426.07 148,428.19 149.3,428.36 150.6,430.02 151.9,430.34 153.2,431.25 154.5,431.13 155.8,431.75 157.1,431.39 158.4,431.64 159.7,431.18 161,431.8 162.3,431.29 163.6,431.62 164.9,431.34 166.2,431.77 167.5,431.44 168.8,431.54" fill="none" stroke="#222" stroke-width="1.3" stroke-linejoin="round" />
<polyline points="72,431.78 73.3,431.48 74.6,431.8 75.9,431.48 77.2,431.71 78.5,431.46 79.8,431.71 81.1,431.45 82.4,431.8 83.7,431.19 85,431.16 86.3,430.64 87.6,430.93 88.9,430.07 90.2,430.09 91.5,429.19 92.8,429.29 94.1,428.82 95.4,428.66 96.7,427.19 98,427.15 99.3,426.33 100.6,425.89 101.9,424.51 103.2,423.82 104.5,422.41 105.8,422.22 107.1,419.84 108.4,418.69 109.7,416.4 111,416.13 112.3,411.31 113.6,407.16 114.9,402.32 116.2,400.05 117.5,394.49 118.8,394.4 120.1,391.33 121.4,392.98 122.7,390.94 124,394.01 125.3,393.19 126.6,394.88 127.9,395 129.2,395.81 130.5,394.34 131.8,396.16 133.1,393.5 134.4,395.96 135.7,394.59 137,398.23 138.3,400.27 139.6,402.67 140.9,401.94 142.2,402.37 143.5,400.24 144.8,399.35 146.1,399.04 147.4,404.67 148.7,405.77 150,408.45 151.3,408.42 152.6,411.57 153.9,412.48 155.2,414.84 156.5,415.69 157.8,418.48 159.1,420.18 160.4,421.74 161.7,422.46 163,424.52 164.3,425.14 165.6,427.37 166.9,427.41 168.2,428.63 169.5,428.97 170.8,429.91 172.1,429.95 173.4,431.14 174.7,430.96 176,431.6 177.3,431.45 178.6,431.8 179.9,431.23" fill="none" stroke="#000" stroke-width="1.5" stroke-linejoin="round" />
<line x1="21.9" y1="379" x2="180.9" y2="379" stroke="#666" stroke-width="1.2" />
<line x1="180.5" y1="379" x2="180.5" y2="433.1" stroke="#777" stroke-width="0.9" />
<line x1="17.9" y1="433.1" x2="21.9" y2="433.1" stroke="#111" stroke-width="0.7" />
<line x1="17.9" y1="422.28" x2="21.9" y2="422.28" stroke="#111" stroke-width="0.7" />
<line x1="17.9" y1="411.46" x2="21.9" y2="411.46" stroke="#111" stroke-width="0.7" />
<line x1="17.9" y1="400.64" x2="21.9" y2="400.64" stroke="#111" stroke-width="0.7" />
<line x1="17.9" y1="389.82" x2="21.9" y2="389.82" stroke="#111" stroke-width="0.7" />
<line x1="17.9" y1="379" x2="21.9" y2="379" stroke="#111" stroke-width="0.7" />
<line x1="19.3" y1="433.1" x2="21.9" y2="433.1" stroke="#000" stroke-width="0.7" />
<line x1="19.3" y1="430.94" x2="21.9" y2="430.94" stroke="#000" stroke-width="0.7" />
<line x1="19.3" y1="428.77" x2="21.9" y2="428.77" stroke="#000" stroke-width="0.7" />
<line x1="19.3" y1="426.61" x2="21.9" y2="426.61" stroke="#000" stroke-width="0.7" />
<line x1="19.3" y1="424.44" x2="21.9" y2="424.44" stroke="#000" stroke-width="0.7" />
<line x1="19.3" y1="422.28" x2="21.9" y2="422.28" stroke="#000" stroke-width="0.7" />
<line x1="19.3" y1="420.12" x2="21.9" y2="420.12" stroke="#000" stroke-width="0.7" />
<line x1="19.3" y1="417.95" x2="21.9" y2="417.95" stroke="#000" stroke-width="0.7" />
<line x1="19.3" y1="415.79" x2="21.9" y2="415.79" stroke="#000" stroke-width="0.7" />
<line x1="19.3" y1="413.62" x2="21.9" y2="413.62" stroke="#000" stroke-width="0.7" />
<line x1="19.3" y1="411.46" x2="21.9" y2="411.46" stroke="#000" stroke-width="0.7" />
<line x1="19.3" y1="409.3" x2="21.9" y2="409.3" stroke="#000" stroke-width="0.7" />
<line x1="19.3" y1="407.13" x2="21.9" y2="407.13" stroke="#000" stroke-width="0.7" />
<line x1="19.3" y1="404.97" x2="21.9" y2="404.97" stroke="#000" stroke-width="0.7" />
<line x1="19.3" y1="402.8" x2="21.9" y2="402.8" stroke="#000" stroke-width="0.7" />
<line x1="19.3" y1="400.64" x2="21.9" y2="400.64" stroke="#000" stroke-width="0.7" />
<line x1="19.3" y1="398.48" x2="21.9" y2="398.48" stroke="#000" stroke-width="0.7" />
<line x1="19.3" y1="396.31" x2="21.9" y2="396.31" stroke="#000" stroke-width="0.7" />
<line x1="19.3" y1="394.15" x2="21.9" y2="394.15" stroke="#000" stroke-width="0.7" />
<line x1="19.3" y1="391.98" x2="21.9" y2="391.98" stroke="#000" stroke-width="0.7" />
<line x1="19.3" y1="389.82" x2="21.9" y2="389.82" stroke="#000" stroke-width="0.7" />
<line x1="19.3" y1="387.66" x2="21.9" y2="387.66" stroke="#000" stroke-width="0.7" />
<line x1="19.3" y1="385.49" x2="21.9" y2="385.49" stroke="#000" stroke-width="0.7" />
<line x1="19.3" y1="383.33" x2="21.9" y2="383.33" stroke="#000" stroke-width="0.7" />
<line x1="19.3" y1="381.16" x2="21.9" y2="381.16" stroke="#000" stroke-width="0.7" />
<line x1="19.3" y1="379" x2="21.9" y2="379" stroke="#000" stroke-width="0.7" />
<line x1="21.9" y1="433.1" x2="21.9" y2="437.6" stroke="#222" stroke-width="0.6" />
<line x1="33.84" y1="433.1" x2="33.84" y2="435.7" stroke="#222" stroke-width="0.6" />
<line x1="40.82" y1="433.1" x2="40.82" y2="435.7" stroke="#222" stroke-width="0.6" />
<line x1="45.77" y1="433.1" x2="45.77" y2="435.7" stroke="#222" stroke-width="0.6" />
<line x1="49.61" y1="433.1" x2="49.61" y2="435.7" stroke="#222" stroke-width="0.6" />
<line x1="52.75" y1="433.1" x2="52.75" y2="435.7" stroke="#222" stroke-width="0.6" />
<line x1="55.41" y1="433.1" x2="55.41" y2="435.7" stroke="#222" stroke-width="0.6" />
<line x1="57.71" y1="433.1" x2="57.71" y2="435.7" stroke="#222" stroke-width="0.6" />
<line x1="59.74" y1="433.1" x2="59.74" y2="435.7" stroke="#222" stroke-width="0.6" />
<line x1="61.55" y1="433.1" x2="61.55" y2="437.6" stroke="#222" stroke-width="0.6" />
<line x1="73.49" y1="433.1" x2="73.49" y2="435.7" stroke="#222" stroke-width="0.6" />
<line x1="80.47" y1="433.1" x2="80.47" y2="435.7" stroke="#222" stroke-width="0.6" />
<line x1="85.42" y1="433.1" x2="85.42" y2="435.7" stroke="#222" stroke-width="0.6" />
<line x1="89.26" y1="433.1" x2="89.26" y2="435.7" stroke="#222" stroke-width="0.6" />
<line x1="92.4" y1="433.1" x2="92.4" y2="435.7" stroke="#222" stroke-width="0.6" />
<line x1="95.06" y1="433.1" x2="95.06" y2="435.7" stroke="#222" stroke-width="0.6" />
<line x1="97.36" y1="433.1" x2="97.36" y2="435.7" stroke="#222" stroke-width="0.6" />
<line x1="99.39" y1="433.1" x2="99.39" y2="435.7" stroke="#222" stroke-width="0.6" />
<line x1="101.2" y1="433.1" x2="101.2" y2="437.6" stroke="#222" stroke-width="0.6" />
<line x1="113.14" y1="433.1" x2="113.14" y2="435.7" stroke="#222" stroke-width="0.6" />
<line x1="120.12" y1="433.1" x2="120.12" y2="435.7" stroke="#222" stroke-width="0.6" />
<line x1="125.07" y1="433.1" x2="125.07" y2="435.7" stroke="#222" stroke-width="0.6" />
<line x1="128.91" y1="433.1" x2="128.91" y2="435.7" stroke="#222" stroke-width="0.6" />
<line x1="132.05" y1="433.1" x2="132.05" y2="435.7" stroke="#222" stroke-width="0.6" />
<line x1="134.71" y1="433.1" x2="134.71" y2="435.7" stroke="#222" stroke-width="0.6" />
<line x1="137.01" y1="433.1" x2="137.01" y2="435.7" stroke="#222" stroke-width="0.6" />
<line x1="139.04" y1="433.1" x2="139.04" y2="435.7" stroke="#222" stroke-width="0.6" />
<line x1="140.85" y1="433.1" x2="140.85" y2="437.6" stroke="#222" stroke-width="0.6" />
<line x1="152.79" y1="433.1" x2="152.79" y2="435.7" stroke="#222" stroke-width="0.6" />
<line x1="159.77" y1="433.1" x2="159.77" y2="435.7" stroke="#222" stroke-width="0.6" />
<line x1="164.72" y1="433.1" x2="164.72" y2="435.7" stroke="#222" stroke-width="0.6" />
<line x1="168.56" y1="433.1" x2="168.56" y2="435.7" stroke="#222" stroke-width="0.6" />
<line x1="171.7" y1="433.1" x2="171.7" y2="435.7" stroke="#222" stroke-width="0.6" />
<line x1="174.36" y1="433.1" x2="174.36" y2="435.7" stroke="#222" stroke-width="0.6" />
<line x1="176.66" y1="433.1" x2="176.66" y2="435.7" stroke="#222" stroke-width="0.6" />
<line x1="178.69" y1="433.1" x2="178.69" y2="435.7" stroke="#222" stroke-width="0.6" />
<line x1="180.5" y1="433.1" x2="180.5" y2="437.6" stroke="#222" stroke-width="0.6" />
<line x1="21.9" y1="378.5" x2="21.9" y2="433.7" stroke="#111" stroke-width="1.2" />
<line x1="21.3" y1="433.1" x2="180.5" y2="433.1" stroke="#333" stroke-width="1.1" />
<text x="19.8" y="444.5" font-size="7.3" font-weight="bold" fill="#000" text-anchor="middle" style="font-family:'Liberation Serif',serif" textLength="8.3" lengthAdjust="spacingAndGlyphs" stroke="#000" stroke-width="0.15">10</text>
<text x="24.4" y="440.6" font-size="7.8" font-weight="bold" fill="#000" text-anchor="start" style="font-family:'Liberation Serif',serif" stroke="#000" stroke-width="0.2">0</text>
<text x="59.07" y="444.5" font-size="7.3" font-weight="bold" fill="#000" text-anchor="middle" style="font-family:'Liberation Serif',serif" textLength="8.3" lengthAdjust="spacingAndGlyphs" stroke="#000" stroke-width="0.15">10</text>
<text x="63.67" y="440.6" font-size="7.8" font-weight="bold" fill="#000" text-anchor="start" style="font-family:'Liberation Serif',serif" stroke="#000" stroke-width="0.2">1</text>
<text x="98.35" y="444.5" font-size="7.3" font-weight="bold" fill="#000" text-anchor="middle" style="font-family:'Liberation Serif',serif" textLength="8.3" lengthAdjust="spacingAndGlyphs" stroke="#000" stroke-width="0.15">10</text>
<text x="102.95" y="440.6" font-size="7.8" font-weight="bold" fill="#000" text-anchor="start" style="font-family:'Liberation Serif',serif" stroke="#000" stroke-width="0.2">2</text>
<text x="137.62" y="444.5" font-size="7.3" font-weight="bold" fill="#000" text-anchor="middle" style="font-family:'Liberation Serif',serif" textLength="8.3" lengthAdjust="spacingAndGlyphs" stroke="#000" stroke-width="0.15">10</text>
<text x="142.22" y="440.6" font-size="7.8" font-weight="bold" fill="#000" text-anchor="start" style="font-family:'Liberation Serif',serif" stroke="#000" stroke-width="0.2">3</text>
<text x="176.9" y="444.5" font-size="7.3" font-weight="bold" fill="#000" text-anchor="middle" style="font-family:'Liberation Serif',serif" textLength="8.3" lengthAdjust="spacingAndGlyphs" stroke="#000" stroke-width="0.15">10</text>
<text x="181.5" y="440.6" font-size="7.8" font-weight="bold" fill="#000" text-anchor="start" style="font-family:'Liberation Serif',serif" stroke="#000" stroke-width="0.2">4</text>
<text x="16.3" y="379.2" font-size="7.4" font-weight="bold" fill="#000" text-anchor="middle" style="font-family:'Liberation Serif',serif" transform="rotate(-90 16.3 379.2)" stroke="#000" stroke-width="0.3">50</text>
<text x="16.3" y="433.3" font-size="7.4" font-weight="bold" fill="#000" text-anchor="middle" style="font-family:'Liberation Serif',serif" transform="rotate(-90 16.3 433.3)" stroke="#000" stroke-width="0.3">0</text>
<text x="8.5" y="407.13" font-size="8.2" font-weight="bold" fill="#000" text-anchor="middle" style="font-family:'Liberation Serif',serif" textLength="26.3" lengthAdjust="spacingAndGlyphs" transform="rotate(-90 8.5 407.13)" stroke="#000" stroke-width="0.25">Counts</text>
<text x="79.8" y="450.3" font-size="8" font-weight="bold" fill="#000" text-anchor="start" style="font-family:'Liberation Serif',serif" textLength="40.2" lengthAdjust="spacingAndGlyphs" stroke="#000" stroke-width="0.12">1:10, GAM</text>
<polyline points="286.3,239.75 287.7,236.76 289.1,236.1 290.5,233.7 291.9,233.49 293.3,230.7 294.7,231.37 296.1,228.14 297.5,227.61 298.9,223.05 300.3,221 301.7,216.98 303.1,215.49 304.5,212.49 305.9,211.68 307.3,208.81 308.7,210.61 310.1,208.55 311.5,209.19 312.9,209.1 314.3,212.07 315.7,213.89 317.1,217.8 318.5,220.88 319.9,226.39 321.3,229.83 322.7,235.75 324.1,238.62 325.5,242.18 326.9,244.5 328.3,247.15 329.7,248.05 331.1,249.55 332.5,250.46 333.9,252.11 335.3,252.14 336.7,253.26 338.1,253.5 339.5,254.09 340.9,253.87 342.3,254.87 343.7,254.32 345.1,254.87 346.5,254.13 347.9,254.64 349.3,254.41 350.7,254.51 352.1,254.26 353.5,254.66 354.9,254.13 356.3,254.81 357.7,254.33 359.1,254.64 360.5,254.38 361.9,254.91 363.3,254.06 364.7,254.92 366.1,254.14 367.5,254.65 368.9,254.11 370.3,254.47 371.7,254.29 373.1,254.5 374.5,254.3 375.9,254.89 377.3,254.4 378.7,254.53 380.1,254.11 381.5,254.86 382.9,254.26 384.3,254.92 385.7,254.19 387.1,254.72 388.5,254.21 389.9,254.49 391.3,254.25 392.7,254.69 394.1,254.2 395.5,254.92 396.9,254.35 398.3,254.54 399.7,254.02 401.1,254.49 402.5,254.09 403.9,254.5 405.3,254.04 406.7,254.82 408.1,254.16 409.5,254.62 410.9,254.2 412.3,254.66 413.7,254.18 415.1,254.7 416.5,254.29 417.9,254.59 419.3,254.26 420.7,254.52 422.1,254.11 423.5,254.6 424.9,254.18 426.3,254.59 427.7,254.26 429.1,254.78 430.5,254.29 431.9,254.5 433.3,254.02 434.7,254.54 436.1,254.1 437.5,254.83 438.9,254.41" fill="none" stroke="#222" stroke-width="1.1" stroke-linejoin="round" stroke-dasharray="1.2,1.6"/>
<polyline points="317,254.81 318.3,254.55 319.6,255.02 320.9,254.53 322.2,255.07 323.5,254.57 324.8,254.8 326.1,254.62 327.4,254.85 328.7,254.49 330,254.89 331.3,254.54 332.6,254.54 333.9,254.14 335.2,254.08 336.5,253.54 337.8,253.48 339.1,252.43 340.4,252.71 341.7,251.89 343,251.92 344.3,251.02 345.6,250.77 346.9,249.51 348.2,249.48 349.5,248.41 350.8,248.69 352.1,247.01 353.4,247.27 354.7,245.26 356,245.32 357.3,244.13 358.6,244.24 359.9,242.38 361.2,241.55 362.5,239.92 363.8,239.4 365.1,237.84 366.4,237.48 367.7,235.54 369,235.45 370.3,233.57 371.6,232.8 372.9,231.08 374.2,230.13 375.5,228.46 376.8,227.2 378.1,225.08 379.4,224.69 380.7,221.5 382,219.56 383.3,216.07 384.6,214.64 385.9,211.13 387.2,210.09 388.5,210.97 389.8,213.51 391.1,216.59 392.4,221.31 393.7,222.72 395,225.22 396.3,227.42 397.6,232.02 398.9,234.14 400.2,237.88 401.5,238.99 402.8,241.45 404.1,242.1 405.4,244.42 406.7,245.39 408,248.23 409.3,249.29 410.6,251.05 411.9,251.46 413.2,253.23 414.5,253.18 415.8,254.39 417.1,254.48 418.4,254.94 419.7,254.51 421,255.09 422.3,254.58 423.6,254.92 424.9,254.5 426.2,254.8 427.5,254.78 428.8,255.1 430.1,254.68 431.4,254.82 432.7,254.53 434,254.84 435.3,254.49 436.6,255.05" fill="none" stroke="#999" stroke-width="1.4" stroke-linejoin="round" />
<polyline points="318,254.94 319.3,254.49 320.6,254.88 321.9,254.63 323.2,254.96 324.5,254.65 325.8,254.84 327.1,254.74 328.4,254.83 329.7,254.62 331,255.03 332.3,254.34 333.6,254.4 334.9,254.11 336.2,254.15 337.5,253.18 338.8,253.41 340.1,252.04 341.4,252.4 342.7,250.82 344,250.87 345.3,249.75 346.6,250.06 347.9,249.01 349.2,248.57 350.5,247.51 351.8,247.22 353.1,245.79 354.4,245.95 355.7,244.08 357,244.45 358.3,242.59 359.6,242.47 360.9,241.08 362.2,240.82 363.5,238.54 364.8,239.22 366.1,237.17 367.4,236.79 368.7,235.19 370,235.11 371.3,232.44 372.6,232.42 373.9,230.83 375.2,230.76 376.5,228.98 377.8,228.27 379.1,225.81 380.4,225.77 381.7,223.98 383,221.24 384.3,218.39 385.6,216.46 386.9,212.43 388.2,211.09 389.5,211.28 390.8,213.51 392.1,211.1 393.4,211.77 394.7,210.65 396,214.12 397.3,215.16 398.6,219.15 399.9,221.34 401.2,224.09 402.5,226.31 403.8,229.82 405.1,230.73 406.4,234.44 407.7,236.11 409,239.9 410.3,241.1 411.6,243.72 412.9,245.49 414.2,247.62 415.5,248.79 416.8,250.7 418.1,251.41 419.4,253.25 420.7,253.4 422,254.56 423.3,254.56 424.6,254.92 425.9,254.68 427.2,255.02 428.5,254.79 429.8,254.84 431.1,254.52 432.4,255.08 433.7,254.78 435,255.03 436.3,254.65 437.6,255.1 438.9,254.76" fill="none" stroke="#777" stroke-width="1.5" stroke-linejoin="round" />
<polyline points="319.5,254.83 320.8,254.7 322.1,255.05 323.4,254.57 324.7,255.06 326,254.77 327.3,254.96 328.6,254.62 329.9,254.98 331.2,254.74 332.5,255 333.8,254.63 335.1,254.56 336.4,253.78 337.7,253.86 339,253.38 340.3,253.3 341.6,252.23 342.9,252.42 344.2,251.2 345.5,251.15 346.8,249.88 348.1,249.71 349.4,248.63 350.7,248.47 352,247.13 353.3,247.45 354.6,245.67 355.9,245.83 357.2,244.13 358.5,243.99 359.8,242.75 361.1,242.59 362.4,240.53 363.7,240.43 365,238.75 366.3,238.81 367.6,236.15 368.9,236.05 370.2,234.61 371.5,234.21 372.8,232.08 374.1,232.76 375.4,230.43 376.7,229.97 378,228.68 379.3,227.99 380.6,225.08 381.9,224.76 383.2,222.4 384.5,221.5 385.8,217.26 387.1,215.83 388.4,211.92 389.7,210.97 391,210.22 392.3,212.59 393.6,210.68 394.9,211.26 396.2,209.01 397.5,212.98 398.8,213.74 400.1,218.46 401.4,220.25 402.7,223.49 404,225.03 405.3,229.2 406.6,230.24 407.9,234.08 409.2,236.16 410.5,239.41 411.8,240.85 413.1,243.76 414.4,244.85 415.7,247.22 417,248.3 418.3,250.47 419.6,251.24 420.9,253.28 422.2,253.54 423.5,254.51 424.8,254.49 426.1,254.84 427.4,254.61 428.7,254.91 430,254.53 431.3,255.1 432.6,254.55 433.9,255.03 435.2,254.54 436.5,254.95 437.8,254.55 439.1,255.09" fill="none" stroke="#444" stroke-width="1.4" stroke-linejoin="round" />
<polyline points="320.5,255.02 321.8,254.75 323.1,255.1 324.4,254.58 325.7,254.94 327,254.65 328.3,255.02 329.6,254.76 330.9,254.97 332.2,254.61 333.5,255.07 334.8,254.55 336.1,254.96 337.4,254.53 338.7,254.99 340,254.62 341.3,254.81 342.6,254.73 343.9,255.1 345.2,254.63 346.5,254.8 347.8,254.55 349.1,254.48 350.4,253.97 351.7,253.55 353,252.56 354.3,252.45 355.6,250.84 356.9,250.74 358.2,249.73 359.5,249.07 360.8,247.92 362.1,247.5 363.4,246.28 364.7,246.38 366,244.06 367.3,244.2 368.6,242.29 369.9,242.04 371.2,239.92 372.5,239.79 373.8,237.79 375.1,236.92 376.4,233.82 377.7,232.33 379,229.09 380.3,228.87 381.6,225.74 382.9,225.41 384.2,221.07 385.5,218.56 386.8,214.36 388.1,213.02 389.4,210.65 390.7,211.33 392,209.31 393.3,213.32 394.6,215.33 395.9,218.85 397.2,220.89 398.5,224.94 399.8,227.49 401.1,232.2 402.4,233.67 403.7,236.51 405,237.67 406.3,240.8 407.6,242.47 408.9,245.22 410.2,246.38 411.5,248.81 412.8,249.44 414.1,251.56 415.4,252.38 416.7,253.83 418,253.98 419.3,254.8 420.6,254.58 421.9,254.96 423.2,254.53 424.5,255.02 425.8,254.74 427.1,254.95 428.4,254.49 429.7,254.96 431,254.76 432.3,254.83 433.6,254.7 434.9,254.92 436.2,254.52 437.5,255.09 438.8,254.63 440.1,255.07" fill="none" stroke="#555" stroke-width="1.5" stroke-linejoin="round" />
<polyline points="322,254.82 323.3,254.55 324.6,254.91 325.9,254.71 327.2,254.81 328.5,254.71 329.8,254.83 331.1,254.5 332.4,254.82 333.7,254.65 335,255.07 336.3,254.8 337.6,254.84 338.9,254.61 340.2,254.98 341.5,254.69 342.8,254.95 344.1,254.55 345.4,254.84 346.7,254.54 348,255.07 349.3,254.45 350.6,254.65 351.9,253.67 353.2,253.65 354.5,252.5 355.8,252.35 357.1,250.77 358.4,250.71 359.7,249.31 361,249.27 362.3,248.01 363.6,247.71 364.9,246.35 366.2,245.83 367.5,244.14 368.8,243.95 370.1,241.47 371.4,241.02 372.7,239.31 374,238.96 375.3,236.7 376.6,235.8 377.9,232.83 379.2,231.69 380.5,228.55 381.8,227.75 383.1,224.67 384.4,223.65 385.7,220.32 387,217.58 388.3,213.24 389.6,211.83 390.9,209.27 392.2,209.96 393.5,207.76 394.8,211.44 396.1,213.23 397.4,218.02 398.7,220 400,224.86 401.3,226.24 402.6,231.4 403.9,233.47 405.2,236.41 406.5,237 407.8,240.64 409.1,241.6 410.4,244.95 411.7,245.69 413,248.36 414.3,249.57 415.6,251.23 416.9,251.9 418.2,253.38 419.5,253.85 420.8,254.78 422.1,254.58 423.4,255.01 424.7,254.75 426,254.9 427.3,254.64 428.6,254.95 429.9,254.78 431.2,254.8 432.5,254.61 433.8,254.95 435.1,254.55 436.4,255.04 437.7,254.73 439,254.96" fill="none" stroke="#222" stroke-width="1.5" stroke-linejoin="round" />
<line x1="285.7" y1="201.6" x2="440.9" y2="201.6" stroke="#555" stroke-width="1.3" />
<line x1="440.4" y1="201.6" x2="440.4" y2="256.4" stroke="#444" stroke-width="1.1" />
<line x1="281.7" y1="256.4" x2="285.7" y2="256.4" stroke="#111" stroke-width="0.7" />
<line x1="281.7" y1="247.27" x2="285.7" y2="247.27" stroke="#111" stroke-width="0.7" />
<line x1="281.7" y1="238.13" x2="285.7" y2="238.13" stroke="#111" stroke-width="0.7" />
<line x1="281.7" y1="229" x2="285.7" y2="229" stroke="#111" stroke-width="0.7" />
<line x1="281.7" y1="219.87" x2="285.7" y2="219.87" stroke="#111" stroke-width="0.7" />
<line x1="281.7" y1="210.73" x2="285.7" y2="210.73" stroke="#111" stroke-width="0.7" />
<line x1="281.7" y1="201.6" x2="285.7" y2="201.6" stroke="#111" stroke-width="0.7" />
<line x1="283.1" y1="256.4" x2="285.7" y2="256.4" stroke="#000" stroke-width="0.7" />
<line x1="283.1" y1="254.57" x2="285.7" y2="254.57" stroke="#000" stroke-width="0.7" />
<line x1="283.1" y1="252.75" x2="285.7" y2="252.75" stroke="#000" stroke-width="0.7" />
<line x1="283.1" y1="250.92" x2="285.7" y2="250.92" stroke="#000" stroke-width="0.7" />
<line x1="283.1" y1="249.09" x2="285.7" y2="249.09" stroke="#000" stroke-width="0.7" />
<line x1="283.1" y1="247.27" x2="285.7" y2="247.27" stroke="#000" stroke-width="0.7" />
<line x1="283.1" y1="245.44" x2="285.7" y2="245.44" stroke="#000" stroke-width="0.7" />
<line x1="283.1" y1="243.61" x2="285.7" y2="243.61" stroke="#000" stroke-width="0.7" />
<line x1="283.1" y1="241.79" x2="285.7" y2="241.79" stroke="#000" stroke-width="0.7" />
<line x1="283.1" y1="239.96" x2="285.7" y2="239.96" stroke="#000" stroke-width="0.7" />
<line x1="283.1" y1="238.13" x2="285.7" y2="238.13" stroke="#000" stroke-width="0.7" />
<line x1="283.1" y1="236.31" x2="285.7" y2="236.31" stroke="#000" stroke-width="0.7" />
<line x1="283.1" y1="234.48" x2="285.7" y2="234.48" stroke="#000" stroke-width="0.7" />
<line x1="283.1" y1="232.65" x2="285.7" y2="232.65" stroke="#000" stroke-width="0.7" />
<line x1="283.1" y1="230.83" x2="285.7" y2="230.83" stroke="#000" stroke-width="0.7" />
<line x1="283.1" y1="229" x2="285.7" y2="229" stroke="#000" stroke-width="0.7" />
<line x1="283.1" y1="227.17" x2="285.7" y2="227.17" stroke="#000" stroke-width="0.7" />
<line x1="283.1" y1="225.35" x2="285.7" y2="225.35" stroke="#000" stroke-width="0.7" />
<line x1="283.1" y1="223.52" x2="285.7" y2="223.52" stroke="#000" stroke-width="0.7" />
<line x1="283.1" y1="221.69" x2="285.7" y2="221.69" stroke="#000" stroke-width="0.7" />
<line x1="283.1" y1="219.87" x2="285.7" y2="219.87" stroke="#000" stroke-width="0.7" />
<line x1="283.1" y1="218.04" x2="285.7" y2="218.04" stroke="#000" stroke-width="0.7" />
<line x1="283.1" y1="216.21" x2="285.7" y2="216.21" stroke="#000" stroke-width="0.7" />
<line x1="283.1" y1="214.39" x2="285.7" y2="214.39" stroke="#000" stroke-width="0.7" />
<line x1="283.1" y1="212.56" x2="285.7" y2="212.56" stroke="#000" stroke-width="0.7" />
<line x1="283.1" y1="210.73" x2="285.7" y2="210.73" stroke="#000" stroke-width="0.7" />
<line x1="283.1" y1="208.91" x2="285.7" y2="208.91" stroke="#000" stroke-width="0.7" />
<line x1="283.1" y1="207.08" x2="285.7" y2="207.08" stroke="#000" stroke-width="0.7" />
<line x1="283.1" y1="205.25" x2="285.7" y2="205.25" stroke="#000" stroke-width="0.7" />
<line x1="283.1" y1="203.43" x2="285.7" y2="203.43" stroke="#000" stroke-width="0.7" />
<line x1="283.1" y1="201.6" x2="285.7" y2="201.6" stroke="#000" stroke-width="0.7" />
<line x1="285.7" y1="256.4" x2="285.7" y2="260.9" stroke="#222" stroke-width="0.6" />
<line x1="297.34" y1="256.4" x2="297.34" y2="259" stroke="#222" stroke-width="0.6" />
<line x1="304.15" y1="256.4" x2="304.15" y2="259" stroke="#222" stroke-width="0.6" />
<line x1="308.98" y1="256.4" x2="308.98" y2="259" stroke="#222" stroke-width="0.6" />
<line x1="312.73" y1="256.4" x2="312.73" y2="259" stroke="#222" stroke-width="0.6" />
<line x1="315.79" y1="256.4" x2="315.79" y2="259" stroke="#222" stroke-width="0.6" />
<line x1="318.38" y1="256.4" x2="318.38" y2="259" stroke="#222" stroke-width="0.6" />
<line x1="320.63" y1="256.4" x2="320.63" y2="259" stroke="#222" stroke-width="0.6" />
<line x1="322.61" y1="256.4" x2="322.61" y2="259" stroke="#222" stroke-width="0.6" />
<line x1="324.38" y1="256.4" x2="324.38" y2="260.9" stroke="#222" stroke-width="0.6" />
<line x1="336.02" y1="256.4" x2="336.02" y2="259" stroke="#222" stroke-width="0.6" />
<line x1="342.83" y1="256.4" x2="342.83" y2="259" stroke="#222" stroke-width="0.6" />
<line x1="347.66" y1="256.4" x2="347.66" y2="259" stroke="#222" stroke-width="0.6" />
<line x1="351.41" y1="256.4" x2="351.41" y2="259" stroke="#222" stroke-width="0.6" />
<line x1="354.47" y1="256.4" x2="354.47" y2="259" stroke="#222" stroke-width="0.6" />
<line x1="357.06" y1="256.4" x2="357.06" y2="259" stroke="#222" stroke-width="0.6" />
<line x1="359.3" y1="256.4" x2="359.3" y2="259" stroke="#222" stroke-width="0.6" />
<line x1="361.28" y1="256.4" x2="361.28" y2="259" stroke="#222" stroke-width="0.6" />
<line x1="363.05" y1="256.4" x2="363.05" y2="260.9" stroke="#222" stroke-width="0.6" />
<line x1="374.69" y1="256.4" x2="374.69" y2="259" stroke="#222" stroke-width="0.6" />
<line x1="381.5" y1="256.4" x2="381.5" y2="259" stroke="#222" stroke-width="0.6" />
<line x1="386.33" y1="256.4" x2="386.33" y2="259" stroke="#222" stroke-width="0.6" />
<line x1="390.08" y1="256.4" x2="390.08" y2="259" stroke="#222" stroke-width="0.6" />
<line x1="393.14" y1="256.4" x2="393.14" y2="259" stroke="#222" stroke-width="0.6" />
<line x1="395.73" y1="256.4" x2="395.73" y2="259" stroke="#222" stroke-width="0.6" />
<line x1="397.98" y1="256.4" x2="397.98" y2="259" stroke="#222" stroke-width="0.6" />
<line x1="399.96" y1="256.4" x2="399.96" y2="259" stroke="#222" stroke-width="0.6" />
<line x1="401.72" y1="256.4" x2="401.72" y2="260.9" stroke="#222" stroke-width="0.6" />
<line x1="413.37" y1="256.4" x2="413.37" y2="259" stroke="#222" stroke-width="0.6" />
<line x1="420.18" y1="256.4" x2="420.18" y2="259" stroke="#222" stroke-width="0.6" />
<line x1="425.01" y1="256.4" x2="425.01" y2="259" stroke="#222" stroke-width="0.6" />
<line x1="428.76" y1="256.4" x2="428.76" y2="259" stroke="#222" stroke-width="0.6" />
<line x1="431.82" y1="256.4" x2="431.82" y2="259" stroke="#222" stroke-width="0.6" />
<line x1="434.41" y1="256.4" x2="434.41" y2="259" stroke="#222" stroke-width="0.6" />
<line x1="436.65" y1="256.4" x2="436.65" y2="259" stroke="#222" stroke-width="0.6" />
<line x1="438.63" y1="256.4" x2="438.63" y2="259" stroke="#222" stroke-width="0.6" />
<line x1="440.4" y1="256.4" x2="440.4" y2="260.9" stroke="#222" stroke-width="0.6" />
<line x1="285.7" y1="201.1" x2="285.7" y2="257" stroke="#111" stroke-width="1.2" />
<line x1="285.1" y1="256.4" x2="440.4" y2="256.4" stroke="#333" stroke-width="1.1" />
<text x="283.6" y="268.4" font-size="7.3" font-weight="bold" fill="#000" text-anchor="middle" style="font-family:'Liberation Serif',serif" textLength="8.3" lengthAdjust="spacingAndGlyphs" stroke="#000" stroke-width="0.15">10</text>
<text x="288.8" y="264" font-size="7.8" font-weight="bold" fill="#000" text-anchor="start" style="font-family:'Liberation Serif',serif" stroke="#000" stroke-width="0.2">0</text>
<text x="321.9" y="268.4" font-size="7.3" font-weight="bold" fill="#000" text-anchor="middle" style="font-family:'Liberation Serif',serif" textLength="8.3" lengthAdjust="spacingAndGlyphs" stroke="#000" stroke-width="0.15">10</text>
<text x="327.1" y="264" font-size="7.8" font-weight="bold" fill="#000" text-anchor="start" style="font-family:'Liberation Serif',serif" stroke="#000" stroke-width="0.2">1</text>
<text x="360.2" y="268.4" font-size="7.3" font-weight="bold" fill="#000" text-anchor="middle" style="font-family:'Liberation Serif',serif" textLength="8.3" lengthAdjust="spacingAndGlyphs" stroke="#000" stroke-width="0.15">10</text>
<text x="365.4" y="264" font-size="7.8" font-weight="bold" fill="#000" text-anchor="start" style="font-family:'Liberation Serif',serif" stroke="#000" stroke-width="0.2">2</text>
<text x="398.5" y="268.4" font-size="7.3" font-weight="bold" fill="#000" text-anchor="middle" style="font-family:'Liberation Serif',serif" textLength="8.3" lengthAdjust="spacingAndGlyphs" stroke="#000" stroke-width="0.15">10</text>
<text x="403.7" y="264" font-size="7.8" font-weight="bold" fill="#000" text-anchor="start" style="font-family:'Liberation Serif',serif" stroke="#000" stroke-width="0.2">3</text>
<text x="436.8" y="268.4" font-size="7.3" font-weight="bold" fill="#000" text-anchor="middle" style="font-family:'Liberation Serif',serif" textLength="8.3" lengthAdjust="spacingAndGlyphs" stroke="#000" stroke-width="0.15">10</text>
<text x="442" y="264" font-size="7.8" font-weight="bold" fill="#000" text-anchor="start" style="font-family:'Liberation Serif',serif" stroke="#000" stroke-width="0.2">4</text>
<text x="280.8" y="202.45" font-size="7.5" font-weight="bold" fill="#000" text-anchor="middle" style="font-family:'Liberation Serif',serif" textLength="8.4" lengthAdjust="spacingAndGlyphs" transform="rotate(-90 280.8 202.45)" stroke="#000" stroke-width="0.12">60</text>
<text x="280.8" y="256.6" font-size="8" font-weight="bold" fill="#000" text-anchor="middle" style="font-family:'Liberation Serif',serif" transform="rotate(-90 280.8 256.6)" stroke="#000" stroke-width="0.3">0</text>
<text x="272.9" y="230.64" font-size="8.2" font-weight="bold" fill="#000" text-anchor="middle" style="font-family:'Liberation Serif',serif" textLength="26.3" lengthAdjust="spacingAndGlyphs" transform="rotate(-90 272.9 230.64)" stroke="#000" stroke-width="0.25">Counts</text>
<text x="341.8" y="273.8" font-size="8" font-weight="bold" fill="#000" text-anchor="start" style="font-family:'Liberation Serif',serif" textLength="40.2" lengthAdjust="spacingAndGlyphs" stroke="#000" stroke-width="0.12">1:10, GAM</text>
<polyline points="286.3,321.21 287.7,319.03 289.1,318.42 290.5,315.55 291.9,314.39 293.3,312.74 294.7,312.62 296.1,311.01 297.5,309.04 298.9,305.67 300.3,302.63 301.7,299.01 303.1,297.97 304.5,294.34 305.9,293.99 307.3,290.14 308.7,292.06 310.1,290.55 311.5,290.66 312.9,290.67 314.3,294.22 315.7,295.61 317.1,299.4 318.5,303.19 319.9,308.68 321.3,311.75 322.7,317.64 324.1,319.37 325.5,324.52 326.9,326.1 328.3,328.4 329.7,329.89 331.1,331.35 332.5,332.25 333.9,333.55 335.3,333.36 336.7,335.19 338.1,335.03 339.5,335.68 340.9,335.55 342.3,336.19 343.7,335.93 345.1,336.28 346.5,336.15 347.9,336.33 349.3,335.77 350.7,336.15 352.1,336.05 353.5,336.2 354.9,336.17 356.3,336.51 357.7,335.99 359.1,336.42 360.5,335.85 361.9,336.58 363.3,335.86 364.7,336.22 366.1,335.99 367.5,336.56 368.9,336.18 370.3,336.33 371.7,335.83 373.1,336.37 374.5,335.77 375.9,336.43 377.3,335.82 378.7,336.29 380.1,336.09 381.5,336.6 382.9,336.01 384.3,336.28 385.7,336.17 387.1,336.43 388.5,335.98 389.9,336.34 391.3,336.11 392.7,336.3 394.1,335.79 395.5,336.32 396.9,335.87 398.3,336.22 399.7,335.78 401.1,336.48 402.5,335.83 403.9,336.56 405.3,336.03 406.7,336.55 408.1,336.04 409.5,336.17 410.9,336.1 412.3,336.16 413.7,335.91 415.1,336.55 416.5,335.98 417.9,336.58 419.3,335.96 420.7,336.52 422.1,335.9 423.5,336.31 424.9,336.02 426.3,336.38 427.7,335.88 429.1,336.53 430.5,335.9 431.9,336.6 433.3,335.96 434.7,336.34 436.1,336.17 437.5,336.4 438.9,335.9" fill="none" stroke="#222" stroke-width="1.1" stroke-linejoin="round" stroke-dasharray="1.2,1.6"/>
<polyline points="312,336.52 313.3,336.26 314.6,336.5 315.9,336.24 317.2,336.77 318.5,336.39 319.8,336.67 321.1,336.41 322.4,336.66 323.7,336.45 325,336.72 326.3,336.19 327.6,336.7 328.9,336.27 330.2,336.52 331.5,335.75 332.8,336.16 334.1,334.92 335.4,335.06 336.7,333.97 338,334.12 339.3,332.97 340.6,333.33 341.9,330.78 343.2,329.25 344.5,327.12 345.8,325.84 347.1,323.73 348.4,322.75 349.7,320.18 351,319.65 352.3,316.4 353.6,315.19 354.9,310.84 356.2,308.56 357.5,306.66 358.8,307.17 360.1,306.81 361.4,308.48 362.7,306.7 364,308.21 365.3,306.42 366.6,305.6 367.9,303.32 369.2,301.44 370.5,298.66 371.8,298.63 373.1,295.63 374.4,295.11 375.7,293.81 377,297.66 378.3,296.89 379.6,299.45 380.9,300.23 382.2,304.25 383.5,307.39 384.8,313.01 386.1,316.14 387.4,320.93 388.7,323.15 390,326.1 391.3,326.75 392.6,329.78 393.9,330.98 395.2,332.31 396.5,332.68 397.8,334.16 399.1,333.62 400.4,335.26 401.7,335.2 403,335.89 404.3,335.98 405.6,336.68 406.9,336.31 408.2,336.8 409.5,336.27 410.8,336.78 412.1,336.29 413.4,336.8 414.7,336.49 416,336.56 417.3,336.43 418.6,336.54 419.9,336.26 421.2,336.8 422.5,336.3 423.8,336.51 425.1,336.14 426.4,336.8" fill="none" stroke="#999" stroke-width="1.4" stroke-linejoin="round" />
<polyline points="327,336.8 328.3,336.49 329.6,336.62 330.9,336.25 332.2,336.75 333.5,336.16 334.8,336.72 336.1,336.2 337.4,336.57 338.7,336.41 340,336.38 341.3,335.9 342.6,335.88 343.9,334.95 345.2,335.16 346.5,333.98 347.8,334.5 349.1,332.51 350.4,333.01 351.7,331.29 353,331.31 354.3,329.46 355.6,329.05 356.9,326.96 358.2,326.9 359.5,325.26 360.8,324.91 362.1,323.47 363.4,323.37 364.7,320.89 366,321.08 367.3,319.84 368.6,319.26 369.9,316.47 371.2,316.26 372.5,313.19 373.8,314.77 375.1,313.86 376.4,313.54 377.7,309.34 379,309.67 380.3,306.27 381.6,305.14 382.9,302.07 384.2,302.16 385.5,300.17 386.8,298.49 388.1,294.14 389.4,292.66 390.7,290.97 392,295.68 393.3,295.53 394.6,295.41 395.9,294.95 397.2,298.66 398.5,302.35 399.8,308.48 401.1,310.86 402.4,315.53 403.7,317.09 405,320.62 406.3,322.01 407.6,324.76 408.9,326.07 410.2,328.73 411.5,330.15 412.8,331.89 414.1,332.73 415.4,334.66 416.7,334.36 418,335.12 419.3,334.84 420.6,335.83 421.9,335.59 423.2,336.38 424.5,336.27 425.8,336.52 427.1,336.36 428.4,336.64 429.7,336.16 431,336.62 432.3,336.16 433.6,336.68 434.9,336.34 436.2,336.8 437.5,336.19 438.8,336.71" fill="none" stroke="#1a1a1a" stroke-width="1.3" stroke-linejoin="round" />
<polyline points="342,336.78 343.3,336.23 344.6,336.66 345.9,336.35 347.2,336.54 348.5,336.3 349.8,336.8 351.1,336.47 352.4,336.8 353.7,336.14 355,336.74 356.3,336.41 357.6,336.42 358.9,335.68 360.2,336.13 361.5,335.21 362.8,335.7 364.1,334.29 365.4,334.7 366.7,333.46 368,333.39 369.3,331.99 370.6,331.86 371.9,330 373.2,328.98 374.5,325.76 375.8,324.86 377.1,321.08 378.4,318.75 379.7,313.28 381,311.17 382.3,306.94 383.6,305.14 384.9,302.26 386.2,303.2 387.5,302.94 388.8,301.64 390.1,299.74 391.4,298.2 392.7,295.5 394,298.22 395.3,295.18 396.6,295.47 397.9,293.14 399.2,293.89 400.5,295.05 401.8,294.63 403.1,291.53 404.4,295.08 405.7,295.47 407,297.22 408.3,298.59 409.6,303.71 410.9,308.09 412.2,314.37 413.5,317.45 414.8,322.34 416.1,325.78 417.4,329.36 418.7,330.46 420,332.69 421.3,333.75 422.6,335.34 423.9,335.48 425.2,336.62 426.5,336.41 427.8,336.78 429.1,336.35 430.4,336.8 431.7,336.4 433,336.56 434.3,336.28 435.6,336.61 436.9,336.49 438.2,336.65 439.5,336.24" fill="none" stroke="#000" stroke-width="1.6" stroke-linejoin="round" />
<polyline points="350,336.8 351.3,336.48 352.6,336.63 353.9,336.24 355.2,336.62 356.5,336.16 357.8,336.73 359.1,336.15 360.4,336.8 361.7,336.43 363,336.64 364.3,336.08 365.6,336.37 366.9,335.23 368.2,335.72 369.5,334.75 370.8,334.62 372.1,333.71 373.4,333.42 374.7,331.26 376,330.5 377.3,328.68 378.6,327.26 379.9,324.2 381.2,322.73 382.5,319.7 383.8,318.02 385.1,314.63 386.4,313.64 387.7,311.27 389,311.41 390.3,310.41 391.6,310.55 392.9,307.83 394.2,308.32 395.5,305.56 396.8,305.44 398.1,302.47 399.4,302.49 400.7,299.45 402,298.65 403.3,296.99 404.6,296.64 405.9,294.94 407.2,295.01 408.5,293.6 409.8,294.28 411.1,296 412.4,299.81 413.7,302.12 415,306.04 416.3,308.55 417.6,313.86 418.9,316.64 420.2,321.21 421.5,324.12 422.8,327.1 424.1,328.64 425.4,331.38 426.7,332.2 428,334.23 429.3,334.56 430.6,335.62 431.9,335.52 433.2,336.72 434.5,336.24 435.8,336.58 437.1,336.37 438.4,336.58 439.7,336.48" fill="none" stroke="#777" stroke-width="1.5" stroke-linejoin="round" />
<polyline points="357,336.8 358.3,336.2 359.6,336.8 360.9,336.2 362.2,336.73 363.5,336.46 364.8,336.62 366.1,336.42 367.4,336.68 368.7,336.22 370,336.79 371.3,336.32 372.6,336.72 373.9,336.14 375.2,336.04 376.5,334.79 377.8,334.23 379.1,332.53 380.4,331.92 381.7,329.79 383,328.5 384.3,326.1 385.6,325.78 386.9,322.85 388.2,321.56 389.5,318.66 390.8,317.2 392.1,313.19 393.4,311.47 394.7,306.83 396,305.92 397.3,303.34 398.6,303.36 399.9,299.56 401.2,298.01 402.5,293.71 403.8,292.08 405.1,286.18 406.4,286.44 407.7,287.89 409,291.47 410.3,289.1 411.6,292.23 412.9,294.34 414.2,300.76 415.5,304.49 416.8,309.33 418.1,311.56 419.4,317.23 420.7,320.12 422,324.72 423.3,325.67 424.6,329.15 425.9,330 427.2,332.57 428.5,333.28 429.8,335.04 431.1,335.43 432.4,336.1 433.7,336.48 435,336.8 436.3,336.48 437.6,336.66 438.9,336.17" fill="none" stroke="#aaa" stroke-width="1.5" stroke-linejoin="round" />
<line x1="285.7" y1="283.3" x2="440.9" y2="283.3" stroke="#555" stroke-width="1.3" />
<line x1="440.4" y1="283.3" x2="440.4" y2="338.1" stroke="#444" stroke-width="1.1" />
<line x1="281.7" y1="338.1" x2="285.7" y2="338.1" stroke="#111" stroke-width="0.7" />
<line x1="281.7" y1="328.97" x2="285.7" y2="328.97" stroke="#111" stroke-width="0.7" />
<line x1="281.7" y1="319.83" x2="285.7" y2="319.83" stroke="#111" stroke-width="0.7" />
<line x1="281.7" y1="310.7" x2="285.7" y2="310.7" stroke="#111" stroke-width="0.7" />
<line x1="281.7" y1="301.57" x2="285.7" y2="301.57" stroke="#111" stroke-width="0.7" />
<line x1="281.7" y1="292.43" x2="285.7" y2="292.43" stroke="#111" stroke-width="0.7" />
<line x1="281.7" y1="283.3" x2="285.7" y2="283.3" stroke="#111" stroke-width="0.7" />
<line x1="283.1" y1="338.1" x2="285.7" y2="338.1" stroke="#000" stroke-width="0.7" />
<line x1="283.1" y1="336.27" x2="285.7" y2="336.27" stroke="#000" stroke-width="0.7" />
<line x1="283.1" y1="334.45" x2="285.7" y2="334.45" stroke="#000" stroke-width="0.7" />
<line x1="283.1" y1="332.62" x2="285.7" y2="332.62" stroke="#000" stroke-width="0.7" />
<line x1="283.1" y1="330.79" x2="285.7" y2="330.79" stroke="#000" stroke-width="0.7" />
<line x1="283.1" y1="328.97" x2="285.7" y2="328.97" stroke="#000" stroke-width="0.7" />
<line x1="283.1" y1="327.14" x2="285.7" y2="327.14" stroke="#000" stroke-width="0.7" />
<line x1="283.1" y1="325.31" x2="285.7" y2="325.31" stroke="#000" stroke-width="0.7" />
<line x1="283.1" y1="323.49" x2="285.7" y2="323.49" stroke="#000" stroke-width="0.7" />
<line x1="283.1" y1="321.66" x2="285.7" y2="321.66" stroke="#000" stroke-width="0.7" />
<line x1="283.1" y1="319.83" x2="285.7" y2="319.83" stroke="#000" stroke-width="0.7" />
<line x1="283.1" y1="318.01" x2="285.7" y2="318.01" stroke="#000" stroke-width="0.7" />
<line x1="283.1" y1="316.18" x2="285.7" y2="316.18" stroke="#000" stroke-width="0.7" />
<line x1="283.1" y1="314.35" x2="285.7" y2="314.35" stroke="#000" stroke-width="0.7" />
<line x1="283.1" y1="312.53" x2="285.7" y2="312.53" stroke="#000" stroke-width="0.7" />
<line x1="283.1" y1="310.7" x2="285.7" y2="310.7" stroke="#000" stroke-width="0.7" />
<line x1="283.1" y1="308.87" x2="285.7" y2="308.87" stroke="#000" stroke-width="0.7" />
<line x1="283.1" y1="307.05" x2="285.7" y2="307.05" stroke="#000" stroke-width="0.7" />
<line x1="283.1" y1="305.22" x2="285.7" y2="305.22" stroke="#000" stroke-width="0.7" />
<line x1="283.1" y1="303.39" x2="285.7" y2="303.39" stroke="#000" stroke-width="0.7" />
<line x1="283.1" y1="301.57" x2="285.7" y2="301.57" stroke="#000" stroke-width="0.7" />
<line x1="283.1" y1="299.74" x2="285.7" y2="299.74" stroke="#000" stroke-width="0.7" />
<line x1="283.1" y1="297.91" x2="285.7" y2="297.91" stroke="#000" stroke-width="0.7" />
<line x1="283.1" y1="296.09" x2="285.7" y2="296.09" stroke="#000" stroke-width="0.7" />
<line x1="283.1" y1="294.26" x2="285.7" y2="294.26" stroke="#000" stroke-width="0.7" />
<line x1="283.1" y1="292.43" x2="285.7" y2="292.43" stroke="#000" stroke-width="0.7" />
<line x1="283.1" y1="290.61" x2="285.7" y2="290.61" stroke="#000" stroke-width="0.7" />
<line x1="283.1" y1="288.78" x2="285.7" y2="288.78" stroke="#000" stroke-width="0.7" />
<line x1="283.1" y1="286.95" x2="285.7" y2="286.95" stroke="#000" stroke-width="0.7" />
<line x1="283.1" y1="285.13" x2="285.7" y2="285.13" stroke="#000" stroke-width="0.7" />
<line x1="283.1" y1="283.3" x2="285.7" y2="283.3" stroke="#000" stroke-width="0.7" />
<line x1="285.7" y1="338.1" x2="285.7" y2="342.6" stroke="#222" stroke-width="0.6" />
<line x1="297.34" y1="338.1" x2="297.34" y2="340.7" stroke="#222" stroke-width="0.6" />
<line x1="304.15" y1="338.1" x2="304.15" y2="340.7" stroke="#222" stroke-width="0.6" />
<line x1="308.98" y1="338.1" x2="308.98" y2="340.7" stroke="#222" stroke-width="0.6" />
<line x1="312.73" y1="338.1" x2="312.73" y2="340.7" stroke="#222" stroke-width="0.6" />
<line x1="315.79" y1="338.1" x2="315.79" y2="340.7" stroke="#222" stroke-width="0.6" />
<line x1="318.38" y1="338.1" x2="318.38" y2="340.7" stroke="#222" stroke-width="0.6" />
<line x1="320.63" y1="338.1" x2="320.63" y2="340.7" stroke="#222" stroke-width="0.6" />
<line x1="322.61" y1="338.1" x2="322.61" y2="340.7" stroke="#222" stroke-width="0.6" />
<line x1="324.38" y1="338.1" x2="324.38" y2="342.6" stroke="#222" stroke-width="0.6" />
<line x1="336.02" y1="338.1" x2="336.02" y2="340.7" stroke="#222" stroke-width="0.6" />
<line x1="342.83" y1="338.1" x2="342.83" y2="340.7" stroke="#222" stroke-width="0.6" />
<line x1="347.66" y1="338.1" x2="347.66" y2="340.7" stroke="#222" stroke-width="0.6" />
<line x1="351.41" y1="338.1" x2="351.41" y2="340.7" stroke="#222" stroke-width="0.6" />
<line x1="354.47" y1="338.1" x2="354.47" y2="340.7" stroke="#222" stroke-width="0.6" />
<line x1="357.06" y1="338.1" x2="357.06" y2="340.7" stroke="#222" stroke-width="0.6" />
<line x1="359.3" y1="338.1" x2="359.3" y2="340.7" stroke="#222" stroke-width="0.6" />
<line x1="361.28" y1="338.1" x2="361.28" y2="340.7" stroke="#222" stroke-width="0.6" />
<line x1="363.05" y1="338.1" x2="363.05" y2="342.6" stroke="#222" stroke-width="0.6" />
<line x1="374.69" y1="338.1" x2="374.69" y2="340.7" stroke="#222" stroke-width="0.6" />
<line x1="381.5" y1="338.1" x2="381.5" y2="340.7" stroke="#222" stroke-width="0.6" />
<line x1="386.33" y1="338.1" x2="386.33" y2="340.7" stroke="#222" stroke-width="0.6" />
<line x1="390.08" y1="338.1" x2="390.08" y2="340.7" stroke="#222" stroke-width="0.6" />
<line x1="393.14" y1="338.1" x2="393.14" y2="340.7" stroke="#222" stroke-width="0.6" />
<line x1="395.73" y1="338.1" x2="395.73" y2="340.7" stroke="#222" stroke-width="0.6" />
<line x1="397.98" y1="338.1" x2="397.98" y2="340.7" stroke="#222" stroke-width="0.6" />
<line x1="399.96" y1="338.1" x2="399.96" y2="340.7" stroke="#222" stroke-width="0.6" />
<line x1="401.72" y1="338.1" x2="401.72" y2="342.6" stroke="#222" stroke-width="0.6" />
<line x1="413.37" y1="338.1" x2="413.37" y2="340.7" stroke="#222" stroke-width="0.6" />
<line x1="420.18" y1="338.1" x2="420.18" y2="340.7" stroke="#222" stroke-width="0.6" />
<line x1="425.01" y1="338.1" x2="425.01" y2="340.7" stroke="#222" stroke-width="0.6" />
<line x1="428.76" y1="338.1" x2="428.76" y2="340.7" stroke="#222" stroke-width="0.6" />
<line x1="431.82" y1="338.1" x2="431.82" y2="340.7" stroke="#222" stroke-width="0.6" />
<line x1="434.41" y1="338.1" x2="434.41" y2="340.7" stroke="#222" stroke-width="0.6" />
<line x1="436.65" y1="338.1" x2="436.65" y2="340.7" stroke="#222" stroke-width="0.6" />
<line x1="438.63" y1="338.1" x2="438.63" y2="340.7" stroke="#222" stroke-width="0.6" />
<line x1="440.4" y1="338.1" x2="440.4" y2="342.6" stroke="#222" stroke-width="0.6" />
<line x1="285.7" y1="282.8" x2="285.7" y2="338.7" stroke="#111" stroke-width="1.2" />
<line x1="285.1" y1="338.1" x2="440.4" y2="338.1" stroke="#333" stroke-width="1.1" />
<text x="283.6" y="350.1" font-size="7.3" font-weight="bold" fill="#000" text-anchor="middle" style="font-family:'Liberation Serif',serif" textLength="8.3" lengthAdjust="spacingAndGlyphs" stroke="#000" stroke-width="0.15">10</text>
<text x="288.8" y="345.7" font-size="7.8" font-weight="bold" fill="#000" text-anchor="start" style="font-family:'Liberation Serif',serif" stroke="#000" stroke-width="0.2">0</text>
<text x="321.9" y="350.1" font-size="7.3" font-weight="bold" fill="#000" text-anchor="middle" style="font-family:'Liberation Serif',serif" textLength="8.3" lengthAdjust="spacingAndGlyphs" stroke="#000" stroke-width="0.15">10</text>
<text x="327.1" y="345.7" font-size="7.8" font-weight="bold" fill="#000" text-anchor="start" style="font-family:'Liberation Serif',serif" stroke="#000" stroke-width="0.2">1</text>
<text x="360.2" y="350.1" font-size="7.3" font-weight="bold" fill="#000" text-anchor="middle" style="font-family:'Liberation Serif',serif" textLength="8.3" lengthAdjust="spacingAndGlyphs" stroke="#000" stroke-width="0.15">10</text>
<text x="365.4" y="345.7" font-size="7.8" font-weight="bold" fill="#000" text-anchor="start" style="font-family:'Liberation Serif',serif" stroke="#000" stroke-width="0.2">2</text>
<text x="398.5" y="350.1" font-size="7.3" font-weight="bold" fill="#000" text-anchor="middle" style="font-family:'Liberation Serif',serif" textLength="8.3" lengthAdjust="spacingAndGlyphs" stroke="#000" stroke-width="0.15">10</text>
<text x="403.7" y="345.7" font-size="7.8" font-weight="bold" fill="#000" text-anchor="start" style="font-family:'Liberation Serif',serif" stroke="#000" stroke-width="0.2">3</text>
<text x="436.8" y="350.1" font-size="7.3" font-weight="bold" fill="#000" text-anchor="middle" style="font-family:'Liberation Serif',serif" textLength="8.3" lengthAdjust="spacingAndGlyphs" stroke="#000" stroke-width="0.15">10</text>
<text x="442" y="345.7" font-size="7.8" font-weight="bold" fill="#000" text-anchor="start" style="font-family:'Liberation Serif',serif" stroke="#000" stroke-width="0.2">4</text>
<text x="280.8" y="284.15" font-size="7.5" font-weight="bold" fill="#000" text-anchor="middle" style="font-family:'Liberation Serif',serif" textLength="8.4" lengthAdjust="spacingAndGlyphs" transform="rotate(-90 280.8 284.15)" stroke="#000" stroke-width="0.12">60</text>
<text x="280.8" y="338.3" font-size="8" font-weight="bold" fill="#000" text-anchor="middle" style="font-family:'Liberation Serif',serif" transform="rotate(-90 280.8 338.3)" stroke="#000" stroke-width="0.3">0</text>
<text x="272.9" y="312.34" font-size="8.2" font-weight="bold" fill="#000" text-anchor="middle" style="font-family:'Liberation Serif',serif" textLength="26.3" lengthAdjust="spacingAndGlyphs" transform="rotate(-90 272.9 312.34)" stroke="#000" stroke-width="0.25">Counts</text>
<text x="341.8" y="355.5" font-size="8" font-weight="bold" fill="#000" text-anchor="start" style="font-family:'Liberation Serif',serif" textLength="40.2" lengthAdjust="spacingAndGlyphs" stroke="#000" stroke-width="0.12">1:10, GAM</text>
<polyline points="286.3,401.67 287.7,398.5 289.1,398.31 290.5,395.4 291.9,394.17 293.3,391.73 294.7,392.69 296.1,390.22 297.5,389.73 298.9,384.65 300.3,384.01 301.7,378.47 303.1,378.18 304.5,372.79 305.9,372.97 307.3,369.92 308.7,372.79 310.1,370.34 311.5,371.46 312.9,370.86 314.3,374.56 315.7,374.65 317.1,380.49 318.5,382.45 319.9,388.97 321.3,391.44 322.7,396.95 324.1,399.91 325.5,404.03 326.9,405.06 328.3,408.55 329.7,408.87 331.1,411.12 332.5,411.35 333.9,412.96 335.3,413.61 336.7,414.57 338.1,414.96 339.5,415.33 340.9,415.2 342.3,415.76 343.7,415.55 345.1,416.21 346.5,415.57 347.9,416.1 349.3,415.4 350.7,415.78 352.1,415.43 353.5,416.21 354.9,415.65 356.3,416.2 357.7,415.69 359.1,415.88 360.5,415.41 361.9,416.05 363.3,415.39 364.7,415.98 366.1,415.58 367.5,415.87 368.9,415.79 370.3,415.78 371.7,415.76 373.1,415.77 374.5,415.78 375.9,415.95 377.3,415.39 378.7,416.05 380.1,415.66 381.5,415.94 382.9,415.55 384.3,416.07 385.7,415.45 387.1,415.9 388.5,415.66 389.9,415.97 391.3,415.72 392.7,415.97 394.1,415.67 395.5,416.01 396.9,415.43 398.3,415.93 399.7,415.59 401.1,415.98 402.5,415.66 403.9,416.08 405.3,415.65 406.7,415.87 408.1,415.74 409.5,416.19 410.9,415.49 412.3,416.18 413.7,415.55 415.1,415.88 416.5,415.35 417.9,416.08 419.3,415.65 420.7,416.07 422.1,415.52 423.5,415.8 424.9,415.32 426.3,416.05 427.7,415.63 429.1,416.21 430.5,415.71 431.9,416.01 433.3,415.79 434.7,415.76 436.1,415.77 437.5,416 438.9,415.54" fill="none" stroke="#222" stroke-width="1.1" stroke-linejoin="round" stroke-dasharray="1.2,1.6"/>
<polyline points="302,416.37 303.3,415.97 304.6,416.25 305.9,415.81 307.2,416.34 308.5,416.09 309.8,416.25 311.1,416.05 312.4,416.11 313.7,415.93 315,416.17 316.3,415.84 317.6,416.08 318.9,415.5 320.2,415.59 321.5,415.02 322.8,414.65 324.1,413.04 325.4,413.01 326.7,411.63 328,411.47 329.3,409.34 330.6,409.2 331.9,407.08 333.2,406.81 334.5,404.98 335.8,404.46 337.1,402.46 338.4,403.26 339.7,400.92 341,400.5 342.3,397.14 343.6,396.72 344.9,393.81 346.2,394.44 347.5,391.09 348.8,390.81 350.1,387.79 351.4,387.49 352.7,382.87 354,382.14 355.3,376.6 356.6,377 357.9,373.66 359.2,373.92 360.5,371.33 361.8,370.34 363.1,369.9 364.4,372.96 365.7,372.36 367,377.09 368.3,379.17 369.6,383.28 370.9,384.42 372.2,387.37 373.5,389.1 374.8,394.63 376.1,396.1 377.4,399.71 378.7,401.3 380,404.24 381.3,406.07 382.6,409.86 383.9,410.38 385.2,411.97 386.5,412.63 387.8,413.59 389.1,414.28 390.4,414.98 391.7,415.38 393,416.28 394.3,416.09 395.6,416.21 396.9,415.98 398.2,416.4 399.5,415.79 400.8,416.17 402.1,415.94 403.4,416.15 404.7,415.76 406,416.11 407.3,415.86 408.6,416.33 409.9,415.91 411.2,416.32" fill="none" stroke="#444" stroke-width="1.4" stroke-linejoin="round" />
<polyline points="303.3,416.11 304.6,415.78 305.9,416.3 307.2,415.8 308.5,416.1 309.8,415.76 311.1,416.33 312.4,416.09 313.7,416.28 315,415.74 316.3,416.17 317.6,415.99 318.9,416.22 320.2,415.28 321.5,415.65 322.8,414.7 324.1,414.9 325.4,413.61 326.7,413.25 328,411.95 329.3,411.43 330.6,410.18 331.9,409.78 333.2,407.85 334.5,407 335.8,405.22 337.1,405.42 338.4,403.34 339.7,403.66 341,400.9 342.3,401.01 343.6,399.04 344.9,398.17 346.2,395.31 347.5,395.56 348.8,393.01 350.1,392.57 351.4,389.41 352.7,389.1 354,385.02 355.3,383.28 356.6,378.69 357.9,378.36 359.2,375.8 360.5,376.53 361.8,373.15 363.1,372.41 364.4,372.53 365.7,375.24 367,375.26 368.3,379.19 369.6,381.81 370.9,385.14 372.2,385.7 373.5,389.05 374.8,391.27 376.1,396.21 377.4,397.5 378.7,401.13 380,401.94 381.3,404.7 382.6,406.94 383.9,409.87 385.2,410.04 386.5,412.38 387.8,412.58 389.1,414.19 390.4,414.1 391.7,415.52 393,415.4 394.3,416.29 395.6,415.82 396.9,416.4 398.2,415.99 399.5,416.33 400.8,415.81 402.1,416.17 403.4,415.81 404.7,416.4 406,415.9 407.3,416.35 408.6,415.99 409.9,416.39 411.2,415.84 412.5,416.17" fill="none" stroke="#666" stroke-width="1.4" stroke-linejoin="round" />
<polyline points="327,416.4 328.3,415.79 329.6,416.4 330.9,415.88 332.2,416.11 333.5,415.85 334.8,416.38 336.1,415.89 337.4,415.54 338.7,414.02 340,413.63 341.3,412.38 342.6,411.98 343.9,410.56 345.2,409.85 346.5,407.52 347.8,406.95 349.1,404.23 350.4,403.86 351.7,400.62 353,400.17 354.3,397.09 355.6,396 356.9,393.58 358.2,392.67 359.5,390.54 360.8,389.81 362.1,386.28 363.4,386.47 364.7,382.42 366,381.55 367.3,377.4 368.6,376.95 369.9,373.68 371.2,373.49 372.5,371.32 373.8,372.32 375.1,369.63 376.4,370.42 377.7,368.6 379,371.25 380.3,372.12 381.6,377.41 382.9,378.7 384.2,383.68 385.5,386.72 386.8,391.5 388.1,395.01 389.4,400.57 390.7,402.42 392,406.01 393.3,407.35 394.6,410.49 395.9,411.27 397.2,413.75 398.5,414.12 399.8,415.45 401.1,415.31 402.4,416.4 403.7,415.98 405,416.16 406.3,415.76 407.6,416.19 408.9,415.95 410.2,416.27 411.5,415.74 412.8,416.4 414.1,415.76 415.4,416.4 416.7,415.92" fill="none" stroke="#aaa" stroke-width="1.5" stroke-linejoin="round" />
<polyline points="337,416.39 338.3,416.03 339.6,416.35 340.9,415.88 342.2,416.29 343.5,415.81 344.8,416.19 346.1,415.75 347.4,416.11 348.7,415.23 350,415 351.3,413.36 352.6,413.47 353.9,412.2 355.2,412.16 356.5,410.13 357.8,409.86 359.1,407.24 360.4,407.15 361.7,404.98 363,403.68 364.3,401.11 365.6,400.32 366.9,398.07 368.2,397.65 369.5,394.77 370.8,394.04 372.1,390.73 373.4,390.14 374.7,387.04 376,385.88 377.3,382.98 378.6,382.27 379.9,379.66 381.2,379.31 382.5,376.72 383.8,375.25 385.1,372.54 386.4,372.77 387.7,373.27 389,377.12 390.3,377.14 391.6,380.64 392.9,383.66 394.2,388.45 395.5,392.01 396.8,396.46 398.1,397.18 399.4,402.08 400.7,403.41 402,406.74 403.3,407.52 404.6,409.82 405.9,410.39 407.2,411.83 408.5,412.08 409.8,413.8 411.1,413.83 412.4,415.55 413.7,415.42 415,416.18 416.3,416 417.6,416.14 418.9,416.05 420.2,416.23 421.5,415.93 422.8,416.4 424.1,415.77 425.4,416.19 426.7,415.88 428,416.35 429.3,415.85 430.6,416.25 431.9,415.81" fill="none" stroke="#888" stroke-width="1.5" stroke-linejoin="round" />
<polyline points="322,416.31 323.3,415.89 324.6,416.33 325.9,415.74 327.2,416.3 328.5,416.08 329.8,416.19 331.1,415.83 332.4,416.38 333.7,415.79 335,416.12 336.3,415.27 337.6,415.13 338.9,414 340.2,414.21 341.5,412.83 342.8,412.58 344.1,411.37 345.4,411.37 346.7,408.95 348,409.16 349.3,406.81 350.6,406.73 351.9,404.69 353.2,404.98 354.5,403.09 355.8,403.08 357.1,401 358.4,401.02 359.7,398.6 361,398.74 362.3,396.58 363.6,397.6 364.9,394.5 366.2,395.15 367.5,392.48 368.8,393.5 370.1,390.74 371.4,391.22 372.7,389.06 374,389.94 375.3,389.17 376.6,390.91 377.9,386.3 379.2,386.47 380.5,383.62 381.8,383.88 383.1,382.42 384.4,382.21 385.7,380.4 387,383.21 388.3,382.85 389.6,386.5 390.9,386.25 392.2,388.77 393.5,389.4 394.8,391.72 396.1,392.66 397.4,395.87 398.7,396.61 400,400.26 401.3,401.07 402.6,403.34 403.9,404.98 405.2,407.56 406.5,408.44 407.8,410.25 409.1,410.06 410.4,412.13 411.7,412.29 413,414.59 414.3,414.99 415.6,416.09 416.9,415.77 418.2,416.31 419.5,415.82 420.8,416.12 422.1,416.05 423.4,416.37 424.7,415.97 426,416.23 427.3,415.88 428.6,416.3 429.9,415.82 431.2,416.35" fill="none" stroke="#000" stroke-width="1.5" stroke-linejoin="round" />
<line x1="285.7" y1="363.5" x2="440.9" y2="363.5" stroke="#555" stroke-width="1.3" />
<line x1="440.4" y1="363.5" x2="440.4" y2="417.7" stroke="#444" stroke-width="1.1" />
<line x1="281.7" y1="417.7" x2="285.7" y2="417.7" stroke="#111" stroke-width="0.7" />
<line x1="281.7" y1="408.67" x2="285.7" y2="408.67" stroke="#111" stroke-width="0.7" />
<line x1="281.7" y1="399.63" x2="285.7" y2="399.63" stroke="#111" stroke-width="0.7" />
<line x1="281.7" y1="390.6" x2="285.7" y2="390.6" stroke="#111" stroke-width="0.7" />
<line x1="281.7" y1="381.57" x2="285.7" y2="381.57" stroke="#111" stroke-width="0.7" />
<line x1="281.7" y1="372.53" x2="285.7" y2="372.53" stroke="#111" stroke-width="0.7" />
<line x1="281.7" y1="363.5" x2="285.7" y2="363.5" stroke="#111" stroke-width="0.7" />
<line x1="283.1" y1="417.7" x2="285.7" y2="417.7" stroke="#000" stroke-width="0.7" />
<line x1="283.1" y1="415.89" x2="285.7" y2="415.89" stroke="#000" stroke-width="0.7" />
<line x1="283.1" y1="414.09" x2="285.7" y2="414.09" stroke="#000" stroke-width="0.7" />
<line x1="283.1" y1="412.28" x2="285.7" y2="412.28" stroke="#000" stroke-width="0.7" />
<line x1="283.1" y1="410.47" x2="285.7" y2="410.47" stroke="#000" stroke-width="0.7" />
<line x1="283.1" y1="408.67" x2="285.7" y2="408.67" stroke="#000" stroke-width="0.7" />
<line x1="283.1" y1="406.86" x2="285.7" y2="406.86" stroke="#000" stroke-width="0.7" />
<line x1="283.1" y1="405.05" x2="285.7" y2="405.05" stroke="#000" stroke-width="0.7" />
<line x1="283.1" y1="403.25" x2="285.7" y2="403.25" stroke="#000" stroke-width="0.7" />
<line x1="283.1" y1="401.44" x2="285.7" y2="401.44" stroke="#000" stroke-width="0.7" />
<line x1="283.1" y1="399.63" x2="285.7" y2="399.63" stroke="#000" stroke-width="0.7" />
<line x1="283.1" y1="397.83" x2="285.7" y2="397.83" stroke="#000" stroke-width="0.7" />
<line x1="283.1" y1="396.02" x2="285.7" y2="396.02" stroke="#000" stroke-width="0.7" />
<line x1="283.1" y1="394.21" x2="285.7" y2="394.21" stroke="#000" stroke-width="0.7" />
<line x1="283.1" y1="392.41" x2="285.7" y2="392.41" stroke="#000" stroke-width="0.7" />
<line x1="283.1" y1="390.6" x2="285.7" y2="390.6" stroke="#000" stroke-width="0.7" />
<line x1="283.1" y1="388.79" x2="285.7" y2="388.79" stroke="#000" stroke-width="0.7" />
<line x1="283.1" y1="386.99" x2="285.7" y2="386.99" stroke="#000" stroke-width="0.7" />
<line x1="283.1" y1="385.18" x2="285.7" y2="385.18" stroke="#000" stroke-width="0.7" />
<line x1="283.1" y1="383.37" x2="285.7" y2="383.37" stroke="#000" stroke-width="0.7" />
<line x1="283.1" y1="381.57" x2="285.7" y2="381.57" stroke="#000" stroke-width="0.7" />
<line x1="283.1" y1="379.76" x2="285.7" y2="379.76" stroke="#000" stroke-width="0.7" />
<line x1="283.1" y1="377.95" x2="285.7" y2="377.95" stroke="#000" stroke-width="0.7" />
<line x1="283.1" y1="376.15" x2="285.7" y2="376.15" stroke="#000" stroke-width="0.7" />
<line x1="283.1" y1="374.34" x2="285.7" y2="374.34" stroke="#000" stroke-width="0.7" />
<line x1="283.1" y1="372.53" x2="285.7" y2="372.53" stroke="#000" stroke-width="0.7" />
<line x1="283.1" y1="370.73" x2="285.7" y2="370.73" stroke="#000" stroke-width="0.7" />
<line x1="283.1" y1="368.92" x2="285.7" y2="368.92" stroke="#000" stroke-width="0.7" />
<line x1="283.1" y1="367.11" x2="285.7" y2="367.11" stroke="#000" stroke-width="0.7" />
<line x1="283.1" y1="365.31" x2="285.7" y2="365.31" stroke="#000" stroke-width="0.7" />
<line x1="283.1" y1="363.5" x2="285.7" y2="363.5" stroke="#000" stroke-width="0.7" />
<line x1="285.7" y1="417.7" x2="285.7" y2="422.2" stroke="#222" stroke-width="0.6" />
<line x1="297.34" y1="417.7" x2="297.34" y2="420.3" stroke="#222" stroke-width="0.6" />
<line x1="304.15" y1="417.7" x2="304.15" y2="420.3" stroke="#222" stroke-width="0.6" />
<line x1="308.98" y1="417.7" x2="308.98" y2="420.3" stroke="#222" stroke-width="0.6" />
<line x1="312.73" y1="417.7" x2="312.73" y2="420.3" stroke="#222" stroke-width="0.6" />
<line x1="315.79" y1="417.7" x2="315.79" y2="420.3" stroke="#222" stroke-width="0.6" />
<line x1="318.38" y1="417.7" x2="318.38" y2="420.3" stroke="#222" stroke-width="0.6" />
<line x1="320.63" y1="417.7" x2="320.63" y2="420.3" stroke="#222" stroke-width="0.6" />
<line x1="322.61" y1="417.7" x2="322.61" y2="420.3" stroke="#222" stroke-width="0.6" />
<line x1="324.38" y1="417.7" x2="324.38" y2="422.2" stroke="#222" stroke-width="0.6" />
<line x1="336.02" y1="417.7" x2="336.02" y2="420.3" stroke="#222" stroke-width="0.6" />
<line x1="342.83" y1="417.7" x2="342.83" y2="420.3" stroke="#222" stroke-width="0.6" />
<line x1="347.66" y1="417.7" x2="347.66" y2="420.3" stroke="#222" stroke-width="0.6" />
<line x1="351.41" y1="417.7" x2="351.41" y2="420.3" stroke="#222" stroke-width="0.6" />
<line x1="354.47" y1="417.7" x2="354.47" y2="420.3" stroke="#222" stroke-width="0.6" />
<line x1="357.06" y1="417.7" x2="357.06" y2="420.3" stroke="#222" stroke-width="0.6" />
<line x1="359.3" y1="417.7" x2="359.3" y2="420.3" stroke="#222" stroke-width="0.6" />
<line x1="361.28" y1="417.7" x2="361.28" y2="420.3" stroke="#222" stroke-width="0.6" />
<line x1="363.05" y1="417.7" x2="363.05" y2="422.2" stroke="#222" stroke-width="0.6" />
<line x1="374.69" y1="417.7" x2="374.69" y2="420.3" stroke="#222" stroke-width="0.6" />
<line x1="381.5" y1="417.7" x2="381.5" y2="420.3" stroke="#222" stroke-width="0.6" />
<line x1="386.33" y1="417.7" x2="386.33" y2="420.3" stroke="#222" stroke-width="0.6" />
<line x1="390.08" y1="417.7" x2="390.08" y2="420.3" stroke="#222" stroke-width="0.6" />
<line x1="393.14" y1="417.7" x2="393.14" y2="420.3" stroke="#222" stroke-width="0.6" />
<line x1="395.73" y1="417.7" x2="395.73" y2="420.3" stroke="#222" stroke-width="0.6" />
<line x1="397.98" y1="417.7" x2="397.98" y2="420.3" stroke="#222" stroke-width="0.6" />
<line x1="399.96" y1="417.7" x2="399.96" y2="420.3" stroke="#222" stroke-width="0.6" />
<line x1="401.72" y1="417.7" x2="401.72" y2="422.2" stroke="#222" stroke-width="0.6" />
<line x1="413.37" y1="417.7" x2="413.37" y2="420.3" stroke="#222" stroke-width="0.6" />
<line x1="420.18" y1="417.7" x2="420.18" y2="420.3" stroke="#222" stroke-width="0.6" />
<line x1="425.01" y1="417.7" x2="425.01" y2="420.3" stroke="#222" stroke-width="0.6" />
<line x1="428.76" y1="417.7" x2="428.76" y2="420.3" stroke="#222" stroke-width="0.6" />
<line x1="431.82" y1="417.7" x2="431.82" y2="420.3" stroke="#222" stroke-width="0.6" />
<line x1="434.41" y1="417.7" x2="434.41" y2="420.3" stroke="#222" stroke-width="0.6" />
<line x1="436.65" y1="417.7" x2="436.65" y2="420.3" stroke="#222" stroke-width="0.6" />
<line x1="438.63" y1="417.7" x2="438.63" y2="420.3" stroke="#222" stroke-width="0.6" />
<line x1="440.4" y1="417.7" x2="440.4" y2="422.2" stroke="#222" stroke-width="0.6" />
<line x1="285.7" y1="363" x2="285.7" y2="418.3" stroke="#111" stroke-width="1.2" />
<line x1="285.1" y1="417.7" x2="440.4" y2="417.7" stroke="#333" stroke-width="1.1" />
<text x="283.6" y="429.7" font-size="7.3" font-weight="bold" fill="#000" text-anchor="middle" style="font-family:'Liberation Serif',serif" textLength="8.3" lengthAdjust="spacingAndGlyphs" stroke="#000" stroke-width="0.15">10</text>
<text x="288.8" y="425.3" font-size="7.8" font-weight="bold" fill="#000" text-anchor="start" style="font-family:'Liberation Serif',serif" stroke="#000" stroke-width="0.2">0</text>
<text x="321.9" y="429.7" font-size="7.3" font-weight="bold" fill="#000" text-anchor="middle" style="font-family:'Liberation Serif',serif" textLength="8.3" lengthAdjust="spacingAndGlyphs" stroke="#000" stroke-width="0.15">10</text>
<text x="327.1" y="425.3" font-size="7.8" font-weight="bold" fill="#000" text-anchor="start" style="font-family:'Liberation Serif',serif" stroke="#000" stroke-width="0.2">1</text>
<text x="360.2" y="429.7" font-size="7.3" font-weight="bold" fill="#000" text-anchor="middle" style="font-family:'Liberation Serif',serif" textLength="8.3" lengthAdjust="spacingAndGlyphs" stroke="#000" stroke-width="0.15">10</text>
<text x="365.4" y="425.3" font-size="7.8" font-weight="bold" fill="#000" text-anchor="start" style="font-family:'Liberation Serif',serif" stroke="#000" stroke-width="0.2">2</text>
<text x="398.5" y="429.7" font-size="7.3" font-weight="bold" fill="#000" text-anchor="middle" style="font-family:'Liberation Serif',serif" textLength="8.3" lengthAdjust="spacingAndGlyphs" stroke="#000" stroke-width="0.15">10</text>
<text x="403.7" y="425.3" font-size="7.8" font-weight="bold" fill="#000" text-anchor="start" style="font-family:'Liberation Serif',serif" stroke="#000" stroke-width="0.2">3</text>
<text x="436.8" y="429.7" font-size="7.3" font-weight="bold" fill="#000" text-anchor="middle" style="font-family:'Liberation Serif',serif" textLength="8.3" lengthAdjust="spacingAndGlyphs" stroke="#000" stroke-width="0.15">10</text>
<text x="442" y="425.3" font-size="7.8" font-weight="bold" fill="#000" text-anchor="start" style="font-family:'Liberation Serif',serif" stroke="#000" stroke-width="0.2">4</text>
<text x="280.8" y="364.35" font-size="7.5" font-weight="bold" fill="#000" text-anchor="middle" style="font-family:'Liberation Serif',serif" textLength="8.4" lengthAdjust="spacingAndGlyphs" transform="rotate(-90 280.8 364.35)" stroke="#000" stroke-width="0.12">60</text>
<text x="280.8" y="417.9" font-size="8" font-weight="bold" fill="#000" text-anchor="middle" style="font-family:'Liberation Serif',serif" transform="rotate(-90 280.8 417.9)" stroke="#000" stroke-width="0.3">0</text>
<text x="272.9" y="392.23" font-size="8.2" font-weight="bold" fill="#000" text-anchor="middle" style="font-family:'Liberation Serif',serif" textLength="26.3" lengthAdjust="spacingAndGlyphs" transform="rotate(-90 272.9 392.23)" stroke="#000" stroke-width="0.25">Counts</text>
<text x="341.8" y="435.1" font-size="8" font-weight="bold" fill="#000" text-anchor="start" style="font-family:'Liberation Serif',serif" textLength="40.2" lengthAdjust="spacingAndGlyphs" stroke="#000" stroke-width="0.12">1:10, GAM</text>
<polyline points="286.3,481.34 287.7,479.78 289.1,478.56 290.5,476.75 291.9,475.82 293.3,472.63 294.7,473.42 296.1,470.6 297.5,469.67 298.9,465.75 300.3,464.1 301.7,458.95 303.1,458.17 304.5,454.05 305.9,453.69 307.3,449.93 308.7,451.75 310.1,450.01 311.5,452.14 312.9,450.8 314.3,454.13 315.7,454.61 317.1,460.85 318.5,462.7 319.9,468.88 321.3,471.04 322.7,477.91 324.1,480.86 325.5,484.85 326.9,486.75 328.3,489.47 329.7,490.31 331.1,492.15 332.5,493 333.9,494.59 335.3,494.6 336.7,496.07 338.1,496.14 339.5,496.91 340.9,496.64 342.3,497.33 343.7,496.84 345.1,497 346.5,496.91 347.9,497.11 349.3,496.81 350.7,497.37 352.1,496.74 353.5,497.07 354.9,496.77 356.3,497.36 357.7,496.91 359.1,497.42 360.5,496.94 361.9,497.32 363.3,496.74 364.7,497.03 366.1,496.95 367.5,496.96 368.9,496.96 370.3,497.24 371.7,496.62 373.1,497.02 374.5,496.85 375.9,496.97 377.3,496.71 378.7,496.99 380.1,496.57 381.5,497.06 382.9,496.82 384.3,496.95 385.7,496.92 387.1,497.24 388.5,496.63 389.9,497.28 391.3,496.54 392.7,497.06 394.1,496.75 395.5,497.35 396.9,496.83 398.3,496.96 399.7,496.97 401.1,497.01 402.5,496.59 403.9,497.22 405.3,496.54 406.7,497.14 408.1,496.61 409.5,497.15 410.9,496.67 412.3,497.14 413.7,496.67 415.1,497.17 416.5,496.82 417.9,497.14 419.3,496.76 420.7,497.08 422.1,496.7 423.5,496.98 424.9,496.73 426.3,497.18 427.7,496.58 429.1,497.09 430.5,496.77 431.9,497.17 433.3,496.81 434.7,497.06 436.1,496.9 437.5,497.01 438.9,496.95" fill="none" stroke="#222" stroke-width="1.1" stroke-linejoin="round" stroke-dasharray="1.2,1.6"/>
<polyline points="310,497.33 311.3,497.24 312.6,497.52 313.9,497.02 315.2,497.58 316.5,497.15 317.8,497.6 319.1,497.16 320.4,497.56 321.7,496.61 323,496.31 324.3,495.02 325.6,495.45 326.9,493.68 328.2,493.97 329.5,492.94 330.8,492.52 332.1,491.04 333.4,491.2 334.7,489.63 336,490.23 337.3,488.41 338.6,488.41 339.9,487.35 341.2,487.28 342.5,485.67 343.8,485.42 345.1,483.95 346.4,483.17 347.7,481.1 349,478.91 350.3,475.16 351.6,472.82 352.9,470.6 354.2,470.33 355.5,466.44 356.8,465.77 358.1,462.24 359.4,461.55 360.7,457.94 362,451.76 363.3,449.73 364.6,453.19 365.9,448.45 367.2,450.42 368.5,452.21 369.8,450.11 371.1,447.54 372.4,451.68 373.7,453.59 375,460.45 376.3,463.97 377.6,469.86 378.9,473.93 380.2,478.58 381.5,480.67 382.8,483.43 384.1,483.91 385.4,486.43 386.7,487.42 388,490.22 389.3,490.83 390.6,492.84 391.9,493.35 393.2,494.68 394.5,494.89 395.8,496.06 397.1,495.96 398.4,497.22 399.7,497.08 401,497.6 402.3,497.1 403.6,497.31 404.9,497.25 406.2,497.47 407.5,496.94 408.8,497.59 410.1,497.23 411.4,497.6 412.7,497.11 414,497.36 415.3,497.02 416.6,497.49 417.9,497.18 419.2,497.5 420.5,497.03 421.8,497.35" fill="none" stroke="#444" stroke-width="1.5" stroke-linejoin="round" />
<polyline points="311.2,497.6 312.5,497.3 313.8,497.6 315.1,497.13 316.4,497.33 317.7,497.02 319,497.5 320.3,497.25 321.6,497.55 322.9,496.34 324.2,496.68 325.5,495.42 326.8,495.26 328.1,494.23 329.4,494.02 330.7,492.79 332,492.47 333.3,491.11 334.6,491.84 335.9,490.05 337.2,490.52 338.5,488.76 339.8,488.98 341.1,487.27 342.4,488.17 343.7,486.1 345,486.48 346.3,483.76 347.6,483.56 348.9,481.11 350.2,479.73 351.5,475.91 352.8,474.23 354.1,471.44 355.4,470.5 356.7,468.21 358,466.35 359.3,463.19 360.6,462.98 361.9,458.74 363.2,453.25 364.5,450.97 365.8,454.65 367.1,448.87 368.4,452.36 369.7,453.28 371,452.75 372.3,449.41 373.6,454.06 374.9,455.6 376.2,461.87 377.5,465.25 378.8,471.16 380.1,475.15 381.4,479.47 382.7,480.74 384,483.44 385.3,484.19 386.6,486.57 387.9,486.98 389.2,490 390.5,490.41 391.8,493.03 393.1,493.15 394.4,494.7 395.7,494.66 397,496.07 398.3,496.33 399.6,497.26 400.9,497.27 402.2,497.36 403.5,497.25 404.8,497.59 406.1,497.08 407.4,497.42 408.7,497.27 410,497.41 411.3,497.04 412.6,497.53 413.9,497.12 415.2,497.46 416.5,497.09 417.8,497.56 419.1,497.2 420.4,497.46 421.7,497.28 423,497.4" fill="none" stroke="#666" stroke-width="1.4" stroke-linejoin="round" />
<polyline points="327,497.4 328.3,497.08 329.6,497.3 330.9,497.12 332.2,497.47 333.5,497.04 334.8,497.46 336.1,497.03 337.4,496.19 338.7,494.21 340,493.36 341.3,491.28 342.6,491.06 343.9,488.24 345.2,488.4 346.5,485.49 347.8,484.98 349.1,481.98 350.4,481.26 351.7,477.13 353,476.07 354.3,474.11 355.6,473.33 356.9,470.07 358.2,470.56 359.5,467.37 360.8,467.12 362.1,463.27 363.4,463.06 364.7,458.82 366,458.95 367.3,456.71 368.6,459.51 369.9,458.92 371.2,460.47 372.5,462.07 373.8,464.02 375.1,461.21 376.4,462.01 377.7,460.05 379,461.59 380.3,458.3 381.6,458.74 382.9,457.75 384.2,460.75 385.5,460.83 386.8,463.74 388.1,466.46 389.4,470.86 390.7,473.41 392,478.64 393.3,481.39 394.6,485.1 395.9,486.09 397.2,489.35 398.5,490.38 399.8,492.64 401.1,492.21 402.4,493.75 403.7,494.14 405,495.66 406.3,495.65 407.6,496.47 408.9,496.72 410.2,497.45 411.5,497.09 412.8,497.37 414.1,496.99 415.4,497.43 416.7,496.97 418,497.48 419.3,497.16 420.6,497.6 421.9,496.97 423.2,497.33 424.5,497.16 425.8,497.36" fill="none" stroke="#999" stroke-width="1.5" stroke-linejoin="round" />
<polyline points="327,497.35 328.3,497.15 329.6,497.55 330.9,497.22 332.2,497.43 333.5,496.99 334.8,497.3 336.1,497.22 337.4,496.84 338.7,494.9 340,494.75 341.3,492.7 342.6,492.63 343.9,491.38 345.2,491.59 346.5,489.87 347.8,490.2 349.1,487.73 350.4,487.67 351.7,484.82 353,484.27 354.3,482.49 355.6,482.69 356.9,480.03 358.2,480.25 359.5,478.46 360.8,478.44 362.1,476.06 363.4,475.4 364.7,473.38 366,474.44 367.3,472.55 368.6,473.72 369.9,470.37 371.2,469.95 372.5,466.43 373.8,466.94 375.1,461.81 376.4,459.04 377.7,454.98 379,454.4 380.3,453.09 381.6,455.1 382.9,454.11 384.2,454.97 385.5,456.26 386.8,458.46 388.1,462.82 389.4,467.5 390.7,469.7 392,474.39 393.3,477.21 394.6,481.27 395.9,482.92 397.2,486.56 398.5,487.81 399.8,490.29 401.1,491.79 402.4,493.99 403.7,494.07 405,495.45 406.3,495.73 407.6,496.43 408.9,496.67 410.2,497.56 411.5,497.16 412.8,497.43 414.1,496.98 415.4,497.54 416.7,496.98 418,497.58 419.3,497.18 420.6,497.32 421.9,497.05 423.2,497.6 424.5,497.1 425.8,497.56 427.1,497.16 428.4,497.41 429.7,497.16" fill="none" stroke="#000" stroke-width="1.5" stroke-linejoin="round" />
<line x1="285.7" y1="443.3" x2="440.9" y2="443.3" stroke="#555" stroke-width="1.3" />
<line x1="440.4" y1="443.3" x2="440.4" y2="498.9" stroke="#444" stroke-width="1.1" />
<line x1="281.7" y1="498.9" x2="285.7" y2="498.9" stroke="#111" stroke-width="0.7" />
<line x1="281.7" y1="489.63" x2="285.7" y2="489.63" stroke="#111" stroke-width="0.7" />
<line x1="281.7" y1="480.37" x2="285.7" y2="480.37" stroke="#111" stroke-width="0.7" />
<line x1="281.7" y1="471.1" x2="285.7" y2="471.1" stroke="#111" stroke-width="0.7" />
<line x1="281.7" y1="461.83" x2="285.7" y2="461.83" stroke="#111" stroke-width="0.7" />
<line x1="281.7" y1="452.57" x2="285.7" y2="452.57" stroke="#111" stroke-width="0.7" />
<line x1="281.7" y1="443.3" x2="285.7" y2="443.3" stroke="#111" stroke-width="0.7" />
<line x1="283.1" y1="498.9" x2="285.7" y2="498.9" stroke="#000" stroke-width="0.7" />
<line x1="283.1" y1="497.05" x2="285.7" y2="497.05" stroke="#000" stroke-width="0.7" />
<line x1="283.1" y1="495.19" x2="285.7" y2="495.19" stroke="#000" stroke-width="0.7" />
<line x1="283.1" y1="493.34" x2="285.7" y2="493.34" stroke="#000" stroke-width="0.7" />
<line x1="283.1" y1="491.49" x2="285.7" y2="491.49" stroke="#000" stroke-width="0.7" />
<line x1="283.1" y1="489.63" x2="285.7" y2="489.63" stroke="#000" stroke-width="0.7" />
<line x1="283.1" y1="487.78" x2="285.7" y2="487.78" stroke="#000" stroke-width="0.7" />
<line x1="283.1" y1="485.93" x2="285.7" y2="485.93" stroke="#000" stroke-width="0.7" />
<line x1="283.1" y1="484.07" x2="285.7" y2="484.07" stroke="#000" stroke-width="0.7" />
<line x1="283.1" y1="482.22" x2="285.7" y2="482.22" stroke="#000" stroke-width="0.7" />
<line x1="283.1" y1="480.37" x2="285.7" y2="480.37" stroke="#000" stroke-width="0.7" />
<line x1="283.1" y1="478.51" x2="285.7" y2="478.51" stroke="#000" stroke-width="0.7" />
<line x1="283.1" y1="476.66" x2="285.7" y2="476.66" stroke="#000" stroke-width="0.7" />
<line x1="283.1" y1="474.81" x2="285.7" y2="474.81" stroke="#000" stroke-width="0.7" />
<line x1="283.1" y1="472.95" x2="285.7" y2="472.95" stroke="#000" stroke-width="0.7" />
<line x1="283.1" y1="471.1" x2="285.7" y2="471.1" stroke="#000" stroke-width="0.7" />
<line x1="283.1" y1="469.25" x2="285.7" y2="469.25" stroke="#000" stroke-width="0.7" />
<line x1="283.1" y1="467.39" x2="285.7" y2="467.39" stroke="#000" stroke-width="0.7" />
<line x1="283.1" y1="465.54" x2="285.7" y2="465.54" stroke="#000" stroke-width="0.7" />
<line x1="283.1" y1="463.69" x2="285.7" y2="463.69" stroke="#000" stroke-width="0.7" />
<line x1="283.1" y1="461.83" x2="285.7" y2="461.83" stroke="#000" stroke-width="0.7" />
<line x1="283.1" y1="459.98" x2="285.7" y2="459.98" stroke="#000" stroke-width="0.7" />
<line x1="283.1" y1="458.13" x2="285.7" y2="458.13" stroke="#000" stroke-width="0.7" />
<line x1="283.1" y1="456.27" x2="285.7" y2="456.27" stroke="#000" stroke-width="0.7" />
<line x1="283.1" y1="454.42" x2="285.7" y2="454.42" stroke="#000" stroke-width="0.7" />
<line x1="283.1" y1="452.57" x2="285.7" y2="452.57" stroke="#000" stroke-width="0.7" />
<line x1="283.1" y1="450.71" x2="285.7" y2="450.71" stroke="#000" stroke-width="0.7" />
<line x1="283.1" y1="448.86" x2="285.7" y2="448.86" stroke="#000" stroke-width="0.7" />
<line x1="283.1" y1="447.01" x2="285.7" y2="447.01" stroke="#000" stroke-width="0.7" />
<line x1="283.1" y1="445.15" x2="285.7" y2="445.15" stroke="#000" stroke-width="0.7" />
<line x1="283.1" y1="443.3" x2="285.7" y2="443.3" stroke="#000" stroke-width="0.7" />
<line x1="285.7" y1="498.9" x2="285.7" y2="503.4" stroke="#222" stroke-width="0.6" />
<line x1="297.34" y1="498.9" x2="297.34" y2="501.5" stroke="#222" stroke-width="0.6" />
<line x1="304.15" y1="498.9" x2="304.15" y2="501.5" stroke="#222" stroke-width="0.6" />
<line x1="308.98" y1="498.9" x2="308.98" y2="501.5" stroke="#222" stroke-width="0.6" />
<line x1="312.73" y1="498.9" x2="312.73" y2="501.5" stroke="#222" stroke-width="0.6" />
<line x1="315.79" y1="498.9" x2="315.79" y2="501.5" stroke="#222" stroke-width="0.6" />
<line x1="318.38" y1="498.9" x2="318.38" y2="501.5" stroke="#222" stroke-width="0.6" />
<line x1="320.63" y1="498.9" x2="320.63" y2="501.5" stroke="#222" stroke-width="0.6" />
<line x1="322.61" y1="498.9" x2="322.61" y2="501.5" stroke="#222" stroke-width="0.6" />
<line x1="324.38" y1="498.9" x2="324.38" y2="503.4" stroke="#222" stroke-width="0.6" />
<line x1="336.02" y1="498.9" x2="336.02" y2="501.5" stroke="#222" stroke-width="0.6" />
<line x1="342.83" y1="498.9" x2="342.83" y2="501.5" stroke="#222" stroke-width="0.6" />
<line x1="347.66" y1="498.9" x2="347.66" y2="501.5" stroke="#222" stroke-width="0.6" />
<line x1="351.41" y1="498.9" x2="351.41" y2="501.5" stroke="#222" stroke-width="0.6" />
<line x1="354.47" y1="498.9" x2="354.47" y2="501.5" stroke="#222" stroke-width="0.6" />
<line x1="357.06" y1="498.9" x2="357.06" y2="501.5" stroke="#222" stroke-width="0.6" />
<line x1="359.3" y1="498.9" x2="359.3" y2="501.5" stroke="#222" stroke-width="0.6" />
<line x1="361.28" y1="498.9" x2="361.28" y2="501.5" stroke="#222" stroke-width="0.6" />
<line x1="363.05" y1="498.9" x2="363.05" y2="503.4" stroke="#222" stroke-width="0.6" />
<line x1="374.69" y1="498.9" x2="374.69" y2="501.5" stroke="#222" stroke-width="0.6" />
<line x1="381.5" y1="498.9" x2="381.5" y2="501.5" stroke="#222" stroke-width="0.6" />
<line x1="386.33" y1="498.9" x2="386.33" y2="501.5" stroke="#222" stroke-width="0.6" />
<line x1="390.08" y1="498.9" x2="390.08" y2="501.5" stroke="#222" stroke-width="0.6" />
<line x1="393.14" y1="498.9" x2="393.14" y2="501.5" stroke="#222" stroke-width="0.6" />
<line x1="395.73" y1="498.9" x2="395.73" y2="501.5" stroke="#222" stroke-width="0.6" />
<line x1="397.98" y1="498.9" x2="397.98" y2="501.5" stroke="#222" stroke-width="0.6" />
<line x1="399.96" y1="498.9" x2="399.96" y2="501.5" stroke="#222" stroke-width="0.6" />
<line x1="401.72" y1="498.9" x2="401.72" y2="503.4" stroke="#222" stroke-width="0.6" />
<line x1="413.37" y1="498.9" x2="413.37" y2="501.5" stroke="#222" stroke-width="0.6" />
<line x1="420.18" y1="498.9" x2="420.18" y2="501.5" stroke="#222" stroke-width="0.6" />
<line x1="425.01" y1="498.9" x2="425.01" y2="501.5" stroke="#222" stroke-width="0.6" />
<line x1="428.76" y1="498.9" x2="428.76" y2="501.5" stroke="#222" stroke-width="0.6" />
<line x1="431.82" y1="498.9" x2="431.82" y2="501.5" stroke="#222" stroke-width="0.6" />
<line x1="434.41" y1="498.9" x2="434.41" y2="501.5" stroke="#222" stroke-width="0.6" />
<line x1="436.65" y1="498.9" x2="436.65" y2="501.5" stroke="#222" stroke-width="0.6" />
<line x1="438.63" y1="498.9" x2="438.63" y2="501.5" stroke="#222" stroke-width="0.6" />
<line x1="440.4" y1="498.9" x2="440.4" y2="503.4" stroke="#222" stroke-width="0.6" />
<line x1="285.7" y1="442.8" x2="285.7" y2="499.5" stroke="#111" stroke-width="1.2" />
<line x1="285.1" y1="498.9" x2="440.4" y2="498.9" stroke="#333" stroke-width="1.1" />
<text x="283.6" y="510.9" font-size="7.3" font-weight="bold" fill="#000" text-anchor="middle" style="font-family:'Liberation Serif',serif" textLength="8.3" lengthAdjust="spacingAndGlyphs" stroke="#000" stroke-width="0.15">10</text>
<text x="288.8" y="506.5" font-size="7.8" font-weight="bold" fill="#000" text-anchor="start" style="font-family:'Liberation Serif',serif" stroke="#000" stroke-width="0.2">0</text>
<text x="321.9" y="510.9" font-size="7.3" font-weight="bold" fill="#000" text-anchor="middle" style="font-family:'Liberation Serif',serif" textLength="8.3" lengthAdjust="spacingAndGlyphs" stroke="#000" stroke-width="0.15">10</text>
<text x="327.1" y="506.5" font-size="7.8" font-weight="bold" fill="#000" text-anchor="start" style="font-family:'Liberation Serif',serif" stroke="#000" stroke-width="0.2">1</text>
<text x="360.2" y="510.9" font-size="7.3" font-weight="bold" fill="#000" text-anchor="middle" style="font-family:'Liberation Serif',serif" textLength="8.3" lengthAdjust="spacingAndGlyphs" stroke="#000" stroke-width="0.15">10</text>
<text x="365.4" y="506.5" font-size="7.8" font-weight="bold" fill="#000" text-anchor="start" style="font-family:'Liberation Serif',serif" stroke="#000" stroke-width="0.2">2</text>
<text x="398.5" y="510.9" font-size="7.3" font-weight="bold" fill="#000" text-anchor="middle" style="font-family:'Liberation Serif',serif" textLength="8.3" lengthAdjust="spacingAndGlyphs" stroke="#000" stroke-width="0.15">10</text>
<text x="403.7" y="506.5" font-size="7.8" font-weight="bold" fill="#000" text-anchor="start" style="font-family:'Liberation Serif',serif" stroke="#000" stroke-width="0.2">3</text>
<text x="436.8" y="510.9" font-size="7.3" font-weight="bold" fill="#000" text-anchor="middle" style="font-family:'Liberation Serif',serif" textLength="8.3" lengthAdjust="spacingAndGlyphs" stroke="#000" stroke-width="0.15">10</text>
<text x="442" y="506.5" font-size="7.8" font-weight="bold" fill="#000" text-anchor="start" style="font-family:'Liberation Serif',serif" stroke="#000" stroke-width="0.2">4</text>
<text x="280.8" y="444.15" font-size="7.5" font-weight="bold" fill="#000" text-anchor="middle" style="font-family:'Liberation Serif',serif" textLength="8.4" lengthAdjust="spacingAndGlyphs" transform="rotate(-90 280.8 444.15)" stroke="#000" stroke-width="0.12">60</text>
<text x="280.8" y="499.1" font-size="8" font-weight="bold" fill="#000" text-anchor="middle" style="font-family:'Liberation Serif',serif" transform="rotate(-90 280.8 499.1)" stroke="#000" stroke-width="0.3">0</text>
<text x="272.9" y="472.77" font-size="8.2" font-weight="bold" fill="#000" text-anchor="middle" style="font-family:'Liberation Serif',serif" textLength="26.3" lengthAdjust="spacingAndGlyphs" transform="rotate(-90 272.9 472.77)" stroke="#000" stroke-width="0.25">Counts</text>
<text x="341.8" y="516.3" font-size="8" font-weight="bold" fill="#000" text-anchor="start" style="font-family:'Liberation Serif',serif" textLength="40.2" lengthAdjust="spacingAndGlyphs" stroke="#000" stroke-width="0.12">1:10, GAM</text>
<text x="196.2" y="225.8" font-size="10.4" font-weight="bold" fill="#000" text-anchor="start" style="font-family:'Liberation Serif',serif" textLength="49.2" lengthAdjust="spacingAndGlyphs" >Primed d-7</text>
<text x="196.2" y="317.7" font-size="10.4" font-weight="bold" fill="#000" text-anchor="start" style="font-family:'Liberation Serif',serif" textLength="54.9" lengthAdjust="spacingAndGlyphs" >Primed d-14</text>
<text x="196.2" y="405.5" font-size="10.4" font-weight="bold" fill="#000" text-anchor="start" style="font-family:'Liberation Serif',serif" textLength="54.9" lengthAdjust="spacingAndGlyphs" >Primed d-28</text>
<text x="459.7" y="228.9" font-size="10.4" font-weight="bold" fill="#000" text-anchor="start" style="font-family:'Liberation Serif',serif" textLength="55.7" lengthAdjust="spacingAndGlyphs" >Primed d-28</text>
<text x="459.7" y="241.5" font-size="10.4" font-weight="bold" fill="#000" text-anchor="start" style="font-family:'Liberation Serif',serif" textLength="44.1" lengthAdjust="spacingAndGlyphs" >MFI - 608</text>
<text x="459.7" y="310.5" font-size="10.4" font-weight="bold" fill="#000" text-anchor="start" style="font-family:'Liberation Serif',serif" textLength="55.7" lengthAdjust="spacingAndGlyphs" >Primed d-55</text>
<text x="459.7" y="323.1" font-size="10.4" font-weight="bold" fill="#000" text-anchor="start" style="font-family:'Liberation Serif',serif" textLength="44.1" lengthAdjust="spacingAndGlyphs" >MFI - 828</text>
<text x="459.7" y="390" font-size="10.4" font-weight="bold" fill="#000" text-anchor="start" style="font-family:'Liberation Serif',serif" textLength="55.7" lengthAdjust="spacingAndGlyphs" >Primed d-83</text>
<text x="459.7" y="402.6" font-size="10.4" font-weight="bold" fill="#000" text-anchor="start" style="font-family:'Liberation Serif',serif" textLength="49.5" lengthAdjust="spacingAndGlyphs" >MFI - 470*</text>
<text x="455.8" y="463.5" font-size="10.4" font-weight="bold" fill="#000" text-anchor="start" style="font-family:'Liberation Serif',serif" textLength="60.4" lengthAdjust="spacingAndGlyphs" >Primed d-111</text>
<text x="455.8" y="475.8" font-size="10.4" font-weight="bold" fill="#000" text-anchor="start" style="font-family:'Liberation Serif',serif" textLength="49.6" lengthAdjust="spacingAndGlyphs" >MFI - 224*</text>
</svg>
</body></html>
